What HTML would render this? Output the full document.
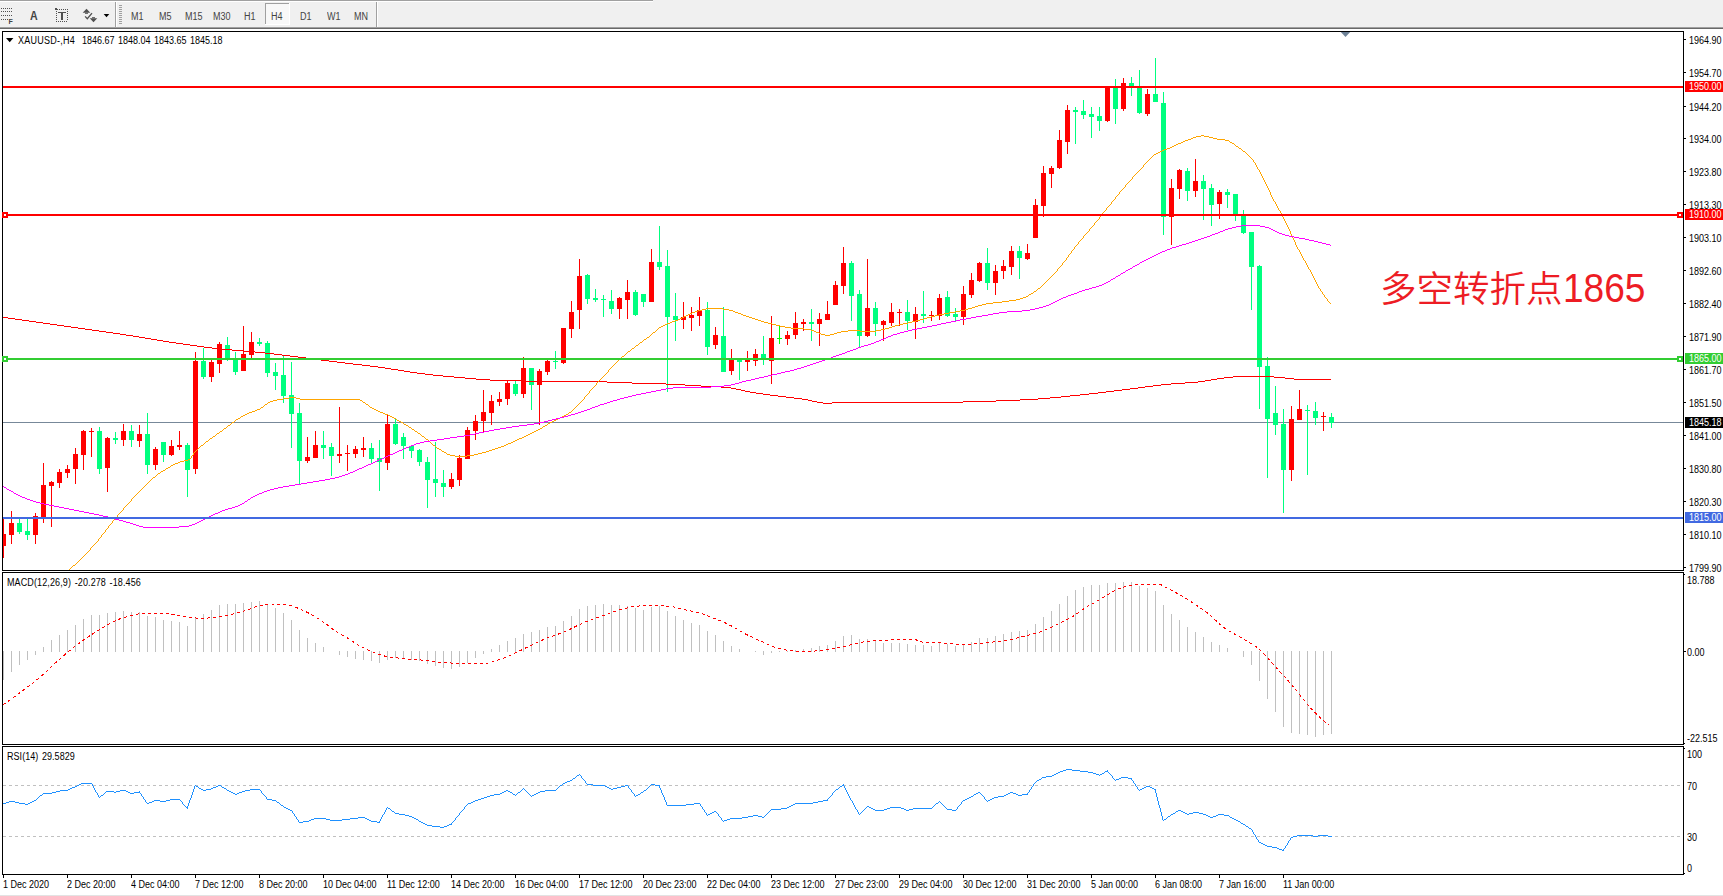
<!DOCTYPE html>
<html><head><meta charset="utf-8"><title>XAUUSD H4</title>
<style>
html,body{margin:0;padding:0;background:#fff;}
body{width:1723px;height:896px;position:relative;overflow:hidden;font-family:"Liberation Sans",sans-serif;}
.t{position:absolute;white-space:nowrap;font-size:10px;line-height:12px;color:#000;transform-origin:0 50%;transform:scaleX(0.9);}
.t.w{color:#fff;}
.t.tb{color:#444;}
.big .dg{display:inline-block;font-weight:400;font-size:40.7px;transform:scaleX(.911);transform-origin:0 50%;position:relative;top:-0.9px;line-height:40px;}
.big{position:absolute;left:1380.1px;top:264.4px;font-family:"Liberation Sans","Noto Sans CJK SC",sans-serif;font-size:36.5px;line-height:52px;font-weight:350;color:#ED1C24;white-space:nowrap;}
</style></head><body>
<svg width="1723" height="896" viewBox="0 0 1723 896" shape-rendering="crispEdges" style="position:absolute;left:0;top:0"><rect x="0" y="0" width="1723" height="896" fill="#FFFFFF"/><rect x="0" y="0" width="1723" height="27" fill="#F0F0F0"/><rect x="0" y="0" width="653" height="1" fill="#A0A0A0"/><rect x="0" y="1" width="653" height="1" fill="#FFFFFF"/><rect x="0" y="27" width="1723" height="1" fill="#A0A0A0"/><rect x="0" y="28" width="1723" height="1" fill="#696969"/><rect x="0" y="895" width="1723" height="1" fill="#E3E3E3"/><rect x="2" y="31" width="1682" height="1" fill="#000"/><rect x="2" y="570" width="1682" height="1" fill="#000"/><rect x="2" y="31" width="1" height="540" fill="#000"/><rect x="1683" y="31" width="1" height="540" fill="#000"/><rect x="2" y="572" width="1682" height="1" fill="#000"/><rect x="2" y="744" width="1682" height="1" fill="#000"/><rect x="2" y="572" width="1" height="173" fill="#000"/><rect x="1683" y="572" width="1" height="173" fill="#000"/><rect x="2" y="746" width="1682" height="1" fill="#000"/><rect x="2" y="874" width="1682" height="1" fill="#000"/><rect x="2" y="746" width="1" height="129" fill="#000"/><rect x="1683" y="746" width="1" height="129" fill="#000"/><defs><clipPath id="c1"><rect x="3" y="32" width="1680" height="538"/></clipPath><clipPath id="c2"><rect x="3" y="573" width="1680" height="171"/></clipPath><clipPath id="c3"><rect x="3" y="747" width="1680" height="127"/></clipPath></defs><g clip-path="url(#c1)"><rect x="3" y="422" width="1680" height="1" fill="#778899"/><rect x="3" y="519" width="1" height="39" fill="#FF0000"/><rect x="1" y="534" width="5" height="12" fill="#FF0000"/><rect x="11" y="511" width="1" height="33" fill="#FF0000"/><rect x="9" y="523" width="5" height="12" fill="#FF0000"/><rect x="19" y="519" width="1" height="15" fill="#00FF7F"/><rect x="17" y="523" width="5" height="9" fill="#00FF7F"/><rect x="27" y="519" width="1" height="21" fill="#00FF7F"/><rect x="25" y="531" width="5" height="4" fill="#00FF7F"/><rect x="35" y="513" width="1" height="31" fill="#FF0000"/><rect x="33" y="516" width="5" height="19" fill="#FF0000"/><rect x="43" y="463" width="1" height="60" fill="#FF0000"/><rect x="41" y="485" width="5" height="33" fill="#FF0000"/><rect x="51" y="481" width="1" height="46" fill="#FF0000"/><rect x="49" y="482" width="5" height="4" fill="#FF0000"/><rect x="59" y="469" width="1" height="19" fill="#FF0000"/><rect x="57" y="472" width="5" height="11" fill="#FF0000"/><rect x="67" y="465" width="1" height="13" fill="#FF0000"/><rect x="65" y="469" width="5" height="4" fill="#FF0000"/><rect x="75" y="448" width="1" height="36" fill="#FF0000"/><rect x="73" y="454" width="5" height="15" fill="#FF0000"/><rect x="83" y="430" width="1" height="40" fill="#FF0000"/><rect x="81" y="431" width="5" height="24" fill="#FF0000"/><rect x="91" y="428" width="1" height="29" fill="#FF0000"/><rect x="89" y="431" width="5" height="1" fill="#FF0000"/><rect x="99" y="427" width="1" height="47" fill="#00FF7F"/><rect x="97" y="431" width="5" height="38" fill="#00FF7F"/><rect x="107" y="437" width="1" height="55" fill="#FF0000"/><rect x="105" y="438" width="5" height="30" fill="#FF0000"/><rect x="115" y="432" width="1" height="12" fill="#00FF7F"/><rect x="113" y="438" width="5" height="2" fill="#00FF7F"/><rect x="123" y="424" width="1" height="22" fill="#FF0000"/><rect x="121" y="431" width="5" height="9" fill="#FF0000"/><rect x="131" y="425" width="1" height="22" fill="#00FF7F"/><rect x="129" y="431" width="5" height="9" fill="#00FF7F"/><rect x="139" y="425" width="1" height="22" fill="#FF0000"/><rect x="137" y="434" width="5" height="7" fill="#FF0000"/><rect x="147" y="413" width="1" height="61" fill="#00FF7F"/><rect x="145" y="434" width="5" height="31" fill="#00FF7F"/><rect x="155" y="447" width="1" height="23" fill="#FF0000"/><rect x="153" y="449" width="5" height="16" fill="#FF0000"/><rect x="163" y="442" width="1" height="20" fill="#00FF7F"/><rect x="161" y="442" width="5" height="13" fill="#00FF7F"/><rect x="171" y="440" width="1" height="16" fill="#FF0000"/><rect x="169" y="446" width="5" height="9" fill="#FF0000"/><rect x="179" y="431" width="1" height="19" fill="#FF0000"/><rect x="177" y="445" width="5" height="2" fill="#FF0000"/><rect x="187" y="443" width="1" height="54" fill="#00FF7F"/><rect x="185" y="445" width="5" height="25" fill="#00FF7F"/><rect x="195" y="352" width="1" height="122" fill="#FF0000"/><rect x="193" y="361" width="5" height="108" fill="#FF0000"/><rect x="203" y="348" width="1" height="31" fill="#00FF7F"/><rect x="201" y="361" width="5" height="16" fill="#00FF7F"/><rect x="211" y="360" width="1" height="22" fill="#FF0000"/><rect x="209" y="362" width="5" height="15" fill="#FF0000"/><rect x="219" y="342" width="1" height="31" fill="#FF0000"/><rect x="217" y="344" width="5" height="20" fill="#FF0000"/><rect x="227" y="337" width="1" height="24" fill="#00FF7F"/><rect x="225" y="345" width="5" height="13" fill="#00FF7F"/><rect x="235" y="352" width="1" height="23" fill="#00FF7F"/><rect x="233" y="359" width="5" height="13" fill="#00FF7F"/><rect x="243" y="326" width="1" height="45" fill="#FF0000"/><rect x="241" y="354" width="5" height="17" fill="#FF0000"/><rect x="251" y="332" width="1" height="26" fill="#FF0000"/><rect x="249" y="342" width="5" height="13" fill="#FF0000"/><rect x="259" y="338" width="1" height="8" fill="#00FF7F"/><rect x="257" y="342" width="5" height="2" fill="#00FF7F"/><rect x="267" y="341" width="1" height="36" fill="#00FF7F"/><rect x="265" y="343" width="5" height="30" fill="#00FF7F"/><rect x="275" y="363" width="1" height="27" fill="#00FF7F"/><rect x="273" y="372" width="5" height="4" fill="#00FF7F"/><rect x="283" y="355" width="1" height="48" fill="#00FF7F"/><rect x="281" y="375" width="5" height="21" fill="#00FF7F"/><rect x="291" y="362" width="1" height="86" fill="#00FF7F"/><rect x="289" y="395" width="5" height="19" fill="#00FF7F"/><rect x="299" y="403" width="1" height="82" fill="#00FF7F"/><rect x="297" y="413" width="5" height="48" fill="#00FF7F"/><rect x="307" y="437" width="1" height="26" fill="#FF0000"/><rect x="305" y="457" width="5" height="4" fill="#FF0000"/><rect x="315" y="431" width="1" height="27" fill="#FF0000"/><rect x="313" y="445" width="5" height="13" fill="#FF0000"/><rect x="323" y="431" width="1" height="28" fill="#00FF7F"/><rect x="321" y="445" width="5" height="3" fill="#00FF7F"/><rect x="331" y="443" width="1" height="33" fill="#00FF7F"/><rect x="329" y="447" width="5" height="9" fill="#00FF7F"/><rect x="339" y="407" width="1" height="56" fill="#FF0000"/><rect x="337" y="454" width="5" height="2" fill="#FF0000"/><rect x="347" y="445" width="1" height="26" fill="#FF0000"/><rect x="345" y="453" width="5" height="1" fill="#FF0000"/><rect x="355" y="446" width="1" height="12" fill="#FF0000"/><rect x="353" y="449" width="5" height="5" fill="#FF0000"/><rect x="363" y="437" width="1" height="20" fill="#FF0000"/><rect x="361" y="448" width="5" height="2" fill="#FF0000"/><rect x="371" y="443" width="1" height="20" fill="#00FF7F"/><rect x="369" y="448" width="5" height="11" fill="#00FF7F"/><rect x="379" y="440" width="1" height="51" fill="#00FF7F"/><rect x="377" y="458" width="5" height="4" fill="#00FF7F"/><rect x="387" y="414" width="1" height="56" fill="#FF0000"/><rect x="385" y="424" width="5" height="39" fill="#FF0000"/><rect x="395" y="418" width="1" height="27" fill="#00FF7F"/><rect x="393" y="424" width="5" height="20" fill="#00FF7F"/><rect x="403" y="433" width="1" height="26" fill="#00FF7F"/><rect x="401" y="437" width="5" height="9" fill="#00FF7F"/><rect x="411" y="445" width="1" height="13" fill="#00FF7F"/><rect x="409" y="446" width="5" height="5" fill="#00FF7F"/><rect x="419" y="449" width="1" height="17" fill="#00FF7F"/><rect x="417" y="450" width="5" height="12" fill="#00FF7F"/><rect x="427" y="457" width="1" height="51" fill="#00FF7F"/><rect x="425" y="462" width="5" height="18" fill="#00FF7F"/><rect x="435" y="442" width="1" height="55" fill="#00FF7F"/><rect x="433" y="479" width="5" height="4" fill="#00FF7F"/><rect x="443" y="470" width="1" height="27" fill="#00FF7F"/><rect x="441" y="483" width="5" height="4" fill="#00FF7F"/><rect x="451" y="473" width="1" height="16" fill="#FF0000"/><rect x="449" y="479" width="5" height="8" fill="#FF0000"/><rect x="459" y="455" width="1" height="31" fill="#FF0000"/><rect x="457" y="458" width="5" height="22" fill="#FF0000"/><rect x="467" y="427" width="1" height="32" fill="#FF0000"/><rect x="465" y="430" width="5" height="29" fill="#FF0000"/><rect x="475" y="415" width="1" height="25" fill="#FF0000"/><rect x="473" y="421" width="5" height="10" fill="#FF0000"/><rect x="483" y="390" width="1" height="42" fill="#FF0000"/><rect x="481" y="412" width="5" height="9" fill="#FF0000"/><rect x="491" y="395" width="1" height="30" fill="#FF0000"/><rect x="489" y="401" width="5" height="12" fill="#FF0000"/><rect x="499" y="392" width="1" height="14" fill="#FF0000"/><rect x="497" y="399" width="5" height="3" fill="#FF0000"/><rect x="507" y="380" width="1" height="25" fill="#FF0000"/><rect x="505" y="383" width="5" height="16" fill="#FF0000"/><rect x="515" y="381" width="1" height="15" fill="#00FF7F"/><rect x="513" y="384" width="5" height="10" fill="#00FF7F"/><rect x="523" y="357" width="1" height="41" fill="#FF0000"/><rect x="521" y="368" width="5" height="26" fill="#FF0000"/><rect x="531" y="368" width="1" height="42" fill="#00FF7F"/><rect x="529" y="368" width="5" height="17" fill="#00FF7F"/><rect x="539" y="369" width="1" height="56" fill="#FF0000"/><rect x="537" y="371" width="5" height="14" fill="#FF0000"/><rect x="547" y="358" width="1" height="17" fill="#FF0000"/><rect x="545" y="361" width="5" height="11" fill="#FF0000"/><rect x="555" y="351" width="1" height="18" fill="#00FF7F"/><rect x="553" y="361" width="5" height="1" fill="#00FF7F"/><rect x="563" y="328" width="1" height="36" fill="#FF0000"/><rect x="561" y="328" width="5" height="35" fill="#FF0000"/><rect x="571" y="301" width="1" height="37" fill="#FF0000"/><rect x="569" y="312" width="5" height="17" fill="#FF0000"/><rect x="579" y="259" width="1" height="70" fill="#FF0000"/><rect x="577" y="276" width="5" height="34" fill="#FF0000"/><rect x="587" y="274" width="1" height="30" fill="#00FF7F"/><rect x="585" y="275" width="5" height="24" fill="#00FF7F"/><rect x="595" y="289" width="1" height="13" fill="#00FF7F"/><rect x="593" y="298" width="5" height="2" fill="#00FF7F"/><rect x="603" y="295" width="1" height="22" fill="#00FF7F"/><rect x="601" y="299" width="5" height="1" fill="#00FF7F"/><rect x="611" y="290" width="1" height="24" fill="#00FF7F"/><rect x="609" y="301" width="5" height="8" fill="#00FF7F"/><rect x="619" y="297" width="1" height="22" fill="#FF0000"/><rect x="617" y="298" width="5" height="11" fill="#FF0000"/><rect x="627" y="280" width="1" height="39" fill="#FF0000"/><rect x="625" y="292" width="5" height="8" fill="#FF0000"/><rect x="635" y="290" width="1" height="26" fill="#00FF7F"/><rect x="633" y="292" width="5" height="23" fill="#00FF7F"/><rect x="643" y="294" width="1" height="13" fill="#00FF7F"/><rect x="641" y="294" width="5" height="8" fill="#00FF7F"/><rect x="651" y="249" width="1" height="53" fill="#FF0000"/><rect x="649" y="262" width="5" height="40" fill="#FF0000"/><rect x="659" y="226" width="1" height="44" fill="#00FF7F"/><rect x="657" y="262" width="5" height="5" fill="#00FF7F"/><rect x="667" y="250" width="1" height="142" fill="#00FF7F"/><rect x="665" y="266" width="5" height="51" fill="#00FF7F"/><rect x="675" y="293" width="1" height="48" fill="#00FF7F"/><rect x="673" y="316" width="5" height="4" fill="#00FF7F"/><rect x="683" y="302" width="1" height="27" fill="#FF0000"/><rect x="681" y="317" width="5" height="3" fill="#FF0000"/><rect x="691" y="307" width="1" height="24" fill="#FF0000"/><rect x="689" y="315" width="5" height="3" fill="#FF0000"/><rect x="699" y="297" width="1" height="29" fill="#FF0000"/><rect x="697" y="310" width="5" height="6" fill="#FF0000"/><rect x="707" y="302" width="1" height="53" fill="#00FF7F"/><rect x="705" y="310" width="5" height="37" fill="#00FF7F"/><rect x="715" y="327" width="1" height="22" fill="#FF0000"/><rect x="713" y="335" width="5" height="10" fill="#FF0000"/><rect x="723" y="307" width="1" height="65" fill="#00FF7F"/><rect x="721" y="336" width="5" height="36" fill="#00FF7F"/><rect x="731" y="349" width="1" height="26" fill="#FF0000"/><rect x="729" y="359" width="5" height="12" fill="#FF0000"/><rect x="739" y="359" width="1" height="21" fill="#00FF7F"/><rect x="737" y="360" width="5" height="2" fill="#00FF7F"/><rect x="747" y="351" width="1" height="20" fill="#FF0000"/><rect x="745" y="360" width="5" height="2" fill="#FF0000"/><rect x="755" y="349" width="1" height="17" fill="#FF0000"/><rect x="753" y="354" width="5" height="7" fill="#FF0000"/><rect x="763" y="336" width="1" height="29" fill="#00FF7F"/><rect x="761" y="354" width="5" height="4" fill="#00FF7F"/><rect x="771" y="316" width="1" height="68" fill="#FF0000"/><rect x="769" y="338" width="5" height="23" fill="#FF0000"/><rect x="779" y="326" width="1" height="18" fill="#00FF00"/><rect x="777" y="338" width="5" height="1" fill="#00FF00"/><rect x="787" y="331" width="1" height="14" fill="#FF0000"/><rect x="785" y="335" width="5" height="4" fill="#FF0000"/><rect x="795" y="312" width="1" height="27" fill="#FF0000"/><rect x="793" y="323" width="5" height="12" fill="#FF0000"/><rect x="803" y="319" width="1" height="12" fill="#FF0000"/><rect x="801" y="322" width="5" height="2" fill="#FF0000"/><rect x="811" y="309" width="1" height="32" fill="#00FF7F"/><rect x="809" y="322" width="5" height="2" fill="#00FF7F"/><rect x="819" y="313" width="1" height="33" fill="#FF0000"/><rect x="817" y="319" width="5" height="5" fill="#FF0000"/><rect x="827" y="301" width="1" height="19" fill="#FF0000"/><rect x="825" y="314" width="5" height="6" fill="#FF0000"/><rect x="835" y="281" width="1" height="24" fill="#FF0000"/><rect x="833" y="285" width="5" height="20" fill="#FF0000"/><rect x="843" y="247" width="1" height="47" fill="#FF0000"/><rect x="841" y="263" width="5" height="23" fill="#FF0000"/><rect x="851" y="261" width="1" height="60" fill="#00FF7F"/><rect x="849" y="263" width="5" height="33" fill="#00FF7F"/><rect x="859" y="290" width="1" height="57" fill="#00FF7F"/><rect x="857" y="294" width="5" height="42" fill="#00FF7F"/><rect x="867" y="259" width="1" height="78" fill="#FF0000"/><rect x="865" y="308" width="5" height="28" fill="#FF0000"/><rect x="875" y="302" width="1" height="34" fill="#00FF7F"/><rect x="873" y="308" width="5" height="16" fill="#00FF7F"/><rect x="883" y="320" width="1" height="21" fill="#FF0000"/><rect x="881" y="321" width="5" height="4" fill="#FF0000"/><rect x="891" y="303" width="1" height="23" fill="#FF0000"/><rect x="889" y="312" width="5" height="11" fill="#FF0000"/><rect x="899" y="309" width="1" height="17" fill="#FF0000"/><rect x="897" y="312" width="5" height="1" fill="#FF0000"/><rect x="907" y="300" width="1" height="30" fill="#00FF7F"/><rect x="905" y="312" width="5" height="9" fill="#00FF7F"/><rect x="915" y="307" width="1" height="32" fill="#FF0000"/><rect x="913" y="314" width="5" height="8" fill="#FF0000"/><rect x="923" y="291" width="1" height="32" fill="#00FF7F"/><rect x="921" y="314" width="5" height="2" fill="#00FF7F"/><rect x="931" y="311" width="1" height="10" fill="#FF0000"/><rect x="929" y="315" width="5" height="1" fill="#FF0000"/><rect x="939" y="294" width="1" height="26" fill="#FF0000"/><rect x="937" y="298" width="5" height="18" fill="#FF0000"/><rect x="947" y="291" width="1" height="26" fill="#00FF7F"/><rect x="945" y="297" width="5" height="19" fill="#00FF7F"/><rect x="955" y="308" width="1" height="13" fill="#00FF7F"/><rect x="953" y="314" width="5" height="3" fill="#00FF7F"/><rect x="963" y="286" width="1" height="39" fill="#FF0000"/><rect x="961" y="294" width="5" height="23" fill="#FF0000"/><rect x="971" y="273" width="1" height="25" fill="#FF0000"/><rect x="969" y="280" width="5" height="15" fill="#FF0000"/><rect x="979" y="262" width="1" height="20" fill="#FF0000"/><rect x="977" y="263" width="5" height="18" fill="#FF0000"/><rect x="987" y="248" width="1" height="42" fill="#00FF7F"/><rect x="985" y="263" width="5" height="20" fill="#00FF7F"/><rect x="995" y="265" width="1" height="30" fill="#FF0000"/><rect x="993" y="271" width="5" height="12" fill="#FF0000"/><rect x="1003" y="260" width="1" height="19" fill="#FF0000"/><rect x="1001" y="266" width="5" height="5" fill="#FF0000"/><rect x="1011" y="246" width="1" height="29" fill="#FF0000"/><rect x="1009" y="251" width="5" height="16" fill="#FF0000"/><rect x="1019" y="246" width="1" height="33" fill="#00FF7F"/><rect x="1017" y="251" width="5" height="7" fill="#00FF7F"/><rect x="1027" y="244" width="1" height="16" fill="#FF0000"/><rect x="1025" y="253" width="5" height="6" fill="#FF0000"/><rect x="1035" y="199" width="1" height="39" fill="#FF0000"/><rect x="1033" y="205" width="5" height="33" fill="#FF0000"/><rect x="1043" y="166" width="1" height="51" fill="#FF0000"/><rect x="1041" y="173" width="5" height="33" fill="#FF0000"/><rect x="1051" y="166" width="1" height="22" fill="#FF0000"/><rect x="1049" y="168" width="5" height="6" fill="#FF0000"/><rect x="1059" y="130" width="1" height="39" fill="#FF0000"/><rect x="1057" y="140" width="5" height="28" fill="#FF0000"/><rect x="1067" y="105" width="1" height="49" fill="#FF0000"/><rect x="1065" y="110" width="5" height="32" fill="#FF0000"/><rect x="1075" y="107" width="1" height="37" fill="#00FF7F"/><rect x="1073" y="110" width="5" height="2" fill="#00FF7F"/><rect x="1083" y="100" width="1" height="19" fill="#00FF7F"/><rect x="1081" y="111" width="5" height="4" fill="#00FF7F"/><rect x="1091" y="107" width="1" height="31" fill="#00FF7F"/><rect x="1089" y="114" width="5" height="3" fill="#00FF7F"/><rect x="1099" y="107" width="1" height="24" fill="#00FF7F"/><rect x="1097" y="116" width="5" height="5" fill="#00FF7F"/><rect x="1107" y="87" width="1" height="35" fill="#FF0000"/><rect x="1105" y="87" width="5" height="34" fill="#FF0000"/><rect x="1115" y="79" width="1" height="45" fill="#00FF7F"/><rect x="1113" y="88" width="5" height="21" fill="#00FF7F"/><rect x="1123" y="78" width="1" height="33" fill="#FF0000"/><rect x="1121" y="83" width="5" height="26" fill="#FF0000"/><rect x="1131" y="77" width="1" height="19" fill="#00FF7F"/><rect x="1129" y="83" width="5" height="3" fill="#00FF7F"/><rect x="1139" y="70" width="1" height="44" fill="#00FF7F"/><rect x="1137" y="88" width="5" height="25" fill="#00FF7F"/><rect x="1147" y="89" width="1" height="27" fill="#FF0000"/><rect x="1145" y="94" width="5" height="20" fill="#FF0000"/><rect x="1155" y="58" width="1" height="44" fill="#00FF7F"/><rect x="1153" y="94" width="5" height="8" fill="#00FF7F"/><rect x="1163" y="92" width="1" height="143" fill="#00FF7F"/><rect x="1161" y="103" width="5" height="114" fill="#00FF7F"/><rect x="1171" y="179" width="1" height="66" fill="#FF0000"/><rect x="1169" y="188" width="5" height="29" fill="#FF0000"/><rect x="1179" y="169" width="1" height="30" fill="#FF0000"/><rect x="1177" y="170" width="5" height="19" fill="#FF0000"/><rect x="1187" y="168" width="1" height="33" fill="#00FF7F"/><rect x="1185" y="171" width="5" height="20" fill="#00FF7F"/><rect x="1195" y="159" width="1" height="38" fill="#FF0000"/><rect x="1193" y="181" width="5" height="10" fill="#FF0000"/><rect x="1203" y="175" width="1" height="45" fill="#00FF7F"/><rect x="1201" y="181" width="5" height="8" fill="#00FF7F"/><rect x="1211" y="184" width="1" height="42" fill="#00FF7F"/><rect x="1209" y="188" width="5" height="17" fill="#00FF7F"/><rect x="1219" y="190" width="1" height="29" fill="#FF0000"/><rect x="1217" y="192" width="5" height="12" fill="#FF0000"/><rect x="1227" y="189" width="1" height="19" fill="#00FF7F"/><rect x="1225" y="192" width="5" height="3" fill="#00FF7F"/><rect x="1235" y="194" width="1" height="27" fill="#00FF7F"/><rect x="1233" y="194" width="5" height="21" fill="#00FF7F"/><rect x="1243" y="210" width="1" height="24" fill="#00FF7F"/><rect x="1241" y="215" width="5" height="18" fill="#00FF7F"/><rect x="1251" y="232" width="1" height="78" fill="#00FF7F"/><rect x="1249" y="232" width="5" height="35" fill="#00FF7F"/><rect x="1259" y="265" width="1" height="144" fill="#00FF7F"/><rect x="1257" y="266" width="5" height="101" fill="#00FF7F"/><rect x="1267" y="357" width="1" height="121" fill="#00FF7F"/><rect x="1265" y="366" width="5" height="53" fill="#00FF7F"/><rect x="1275" y="386" width="1" height="49" fill="#00FF7F"/><rect x="1273" y="413" width="5" height="12" fill="#00FF7F"/><rect x="1283" y="409" width="1" height="104" fill="#00FF7F"/><rect x="1281" y="424" width="5" height="46" fill="#00FF7F"/><rect x="1291" y="406" width="1" height="75" fill="#FF0000"/><rect x="1289" y="419" width="5" height="51" fill="#FF0000"/><rect x="1299" y="390" width="1" height="30" fill="#FF0000"/><rect x="1297" y="409" width="5" height="11" fill="#FF0000"/><rect x="1307" y="405" width="1" height="70" fill="#00FF7F"/><rect x="1305" y="410" width="5" height="1" fill="#00FF7F"/><rect x="1315" y="402" width="1" height="23" fill="#00FF7F"/><rect x="1313" y="411" width="5" height="7" fill="#00FF7F"/><rect x="1323" y="412" width="1" height="19" fill="#FF0000"/><rect x="1321" y="416" width="5" height="1" fill="#FF0000"/><rect x="1331" y="413" width="1" height="15" fill="#00FF7F"/><rect x="1329" y="417" width="5" height="6" fill="#00FF7F"/><path d="M3 317h5v1h-5zM8 318h7v1h-7zM15 319h7v1h-7zM22 320h7v1h-7zM29 321h7v1h-7zM36 322h7v1h-7zM43 323h7v1h-7zM50 324h7v1h-7zM57 325h7v1h-7zM64 326h7v1h-7zM71 327h7v1h-7zM78 328h7v1h-7zM85 329h7v1h-7zM92 330h7v1h-7zM99 331h7v1h-7zM106 332h7v1h-7zM113 333h7v1h-7zM120 334h6v1h-6zM126 335h7v1h-7zM133 336h6v1h-6zM139 337h6v1h-6zM145 338h6v1h-6zM151 339h6v1h-6zM157 340h6v1h-6zM163 341h6v1h-6zM169 342h7v1h-7zM176 343h7v1h-7zM183 344h7v1h-7zM190 345h7v1h-7zM197 346h7v1h-7zM204 347h8v1h-8zM212 348h9v1h-9zM221 349h11v1h-11zM232 350h12v1h-12zM244 351h11v1h-11zM255 352h10v1h-10zM265 353h9v1h-9zM274 354h8v1h-8zM282 355h8v1h-8zM290 356h8v1h-8zM298 357h8v1h-8zM306 358h7v1h-7zM313 359h8v1h-8zM321 360h8v1h-8zM329 361h8v1h-8zM337 362h8v1h-8zM345 363h8v1h-8zM353 364h9v1h-9zM362 365h8v1h-8zM370 366h8v1h-8zM378 367h7v1h-7zM385 368h6v1h-6zM391 369h7v1h-7zM398 370h6v1h-6zM404 371h6v1h-6zM410 372h7v1h-7zM417 373h8v1h-8zM425 374h8v1h-8zM433 375h10v1h-10zM443 376h11v1h-11zM454 377h11v1h-11zM465 378h11v1h-11zM476 379h14v1h-14zM490 380h32v1h-32zM522 381h85v1h-85zM607 382h25v1h-25zM632 383h34v1h-34zM666 384h19v1h-19zM685 385h16v1h-16zM701 386h20v1h-20zM721 387h10v1h-10zM731 388h5v1h-5zM736 389h5v1h-5zM741 390h4v1h-4zM745 391h5v1h-5zM750 392h6v1h-6zM756 393h7v1h-7zM763 394h7v1h-7zM770 395h8v1h-8zM778 396h8v1h-8zM786 397h8v1h-8zM794 398h8v1h-8zM802 399h6v1h-6zM808 400h4v1h-4zM812 401h5v1h-5zM817 402h6v1h-6zM823 403h9v1h-9zM832 402h131v1h-131zM963 401h33v1h-33zM996 400h24v1h-24zM1020 399h18v1h-18zM1038 398h12v1h-12zM1050 397h11v1h-11zM1061 396h9v1h-9zM1070 395h10v1h-10zM1080 394h9v1h-9zM1089 393h9v1h-9zM1098 392h8v1h-8zM1106 391h8v1h-8zM1114 390h8v1h-8zM1122 389h8v1h-8zM1130 388h8v1h-8zM1138 387h7v1h-7zM1145 386h8v1h-8zM1153 385h8v1h-8zM1161 384h10v1h-10zM1171 383h14v1h-14zM1185 382h13v1h-13zM1198 381h7v1h-7zM1205 380h6v1h-6zM1211 379h6v1h-6zM1217 378h7v1h-7zM1224 377h9v1h-9zM1233 376h41v1h-41zM1274 377h11v1h-11zM1285 378h9v1h-9zM1294 379h37v1h-37z" fill="#FF0000"/><path d="M69 569h1v1h-1zM70 568h1v1h-1zM71 567h1v1h-1zM72 566h1v1h-1zM73 565h2v1h-2zM75 564h1v1h-1zM76 563h1v1h-1zM77 562h1v1h-1zM78 561h1v1h-1zM79 560h1v1h-1zM80 559h1v1h-1zM81 558h1v1h-1zM82 557h1v1h-1zM83 556h1v1h-1zM84 555h1v1h-1zM85 554h1v1h-1zM86 553h1v1h-1zM87 552h1v1h-1zM88 551h1v1h-1zM89 550h1v1h-1zM90 548h1v2h-1zM91 547h1v1h-1zM92 546h1v1h-1zM93 545h1v1h-1zM94 544h1v1h-1zM95 543h1v1h-1zM96 542h1v1h-1zM97 541h1v1h-1zM98 539h1v2h-1zM99 538h1v1h-1zM100 537h1v1h-1zM101 535h1v2h-1zM102 534h1v1h-1zM103 533h1v1h-1zM104 532h1v1h-1zM105 530h1v2h-1zM106 529h1v1h-1zM107 528h1v1h-1zM108 526h1v2h-1zM109 525h1v1h-1zM110 524h1v1h-1zM111 523h1v1h-1zM112 521h1v2h-1zM113 520h1v1h-1zM114 519h1v1h-1zM115 518h1v1h-1zM116 517h1v1h-1zM117 515h1v2h-1zM118 514h1v1h-1zM119 513h1v1h-1zM120 512h1v1h-1zM121 511h1v1h-1zM122 510h1v1h-1zM123 508h1v2h-1zM124 507h1v1h-1zM125 506h1v1h-1zM126 505h1v1h-1zM127 504h1v1h-1zM128 503h1v1h-1zM129 502h1v1h-1zM130 501h1v1h-1zM131 499h1v2h-1zM132 498h1v1h-1zM133 497h1v1h-1zM134 496h1v1h-1zM135 495h1v1h-1zM136 494h1v1h-1zM137 493h1v1h-1zM138 492h1v1h-1zM139 491h1v1h-1zM140 490h1v1h-1zM141 489h1v1h-1zM142 488h1v1h-1zM143 487h1v1h-1zM144 486h1v1h-1zM145 485h1v1h-1zM146 484h1v1h-1zM147 483h1v1h-1zM148 482h1v1h-1zM149 481h1v1h-1zM150 480h1v1h-1zM151 479h1v1h-1zM152 478h1v1h-1zM153 477h2v1h-2zM155 476h1v1h-1zM156 475h1v1h-1zM157 474h1v1h-1zM158 473h2v1h-2zM160 472h1v1h-1zM161 471h2v1h-2zM163 470h2v1h-2zM165 469h1v1h-1zM166 468h2v1h-2zM168 467h2v1h-2zM170 466h1v1h-1zM171 465h2v1h-2zM173 464h2v1h-2zM175 463h3v1h-3zM178 462h2v1h-2zM180 461h4v1h-4zM184 460h4v1h-4zM188 459h2v1h-2zM190 458h1v1h-1zM191 456h1v2h-1zM192 455h1v1h-1zM193 453h1v2h-1zM194 452h1v1h-1zM195 451h1v1h-1zM196 450h1v1h-1zM197 449h1v1h-1zM198 448h1v1h-1zM199 447h1v1h-1zM200 446h1v1h-1zM201 445h2v1h-2zM203 444h1v1h-1zM204 443h1v1h-1zM205 442h1v1h-1zM206 441h2v1h-2zM208 440h1v1h-1zM209 439h1v1h-1zM210 438h2v1h-2zM212 437h1v1h-1zM213 436h2v1h-2zM215 435h1v1h-1zM216 434h1v1h-1zM217 433h2v1h-2zM219 432h1v1h-1zM220 431h2v1h-2zM222 430h1v1h-1zM223 429h1v1h-1zM224 428h2v1h-2zM226 427h1v1h-1zM227 426h1v1h-1zM228 425h2v1h-2zM230 424h1v1h-1zM231 423h1v1h-1zM232 422h2v1h-2zM234 421h1v1h-1zM235 420h1v1h-1zM236 419h2v1h-2zM238 418h2v1h-2zM240 417h1v1h-1zM241 416h2v1h-2zM243 415h2v1h-2zM245 414h2v1h-2zM247 413h2v1h-2zM249 412h3v1h-3zM252 411h3v1h-3zM255 410h2v1h-2zM257 409h3v1h-3zM260 408h1v1h-1zM261 407h2v1h-2zM263 406h1v1h-1zM264 405h1v1h-1zM265 404h2v1h-2zM267 403h1v1h-1zM268 402h2v1h-2zM270 401h3v1h-3zM273 400h4v1h-4zM277 399h6v1h-6zM283 398h6v1h-6zM289 397h7v1h-7zM296 398h4v1h-4zM300 399h60v1h-60zM360 400h2v1h-2zM362 401h1v1h-1zM363 402h2v1h-2zM365 403h1v1h-1zM366 404h2v1h-2zM368 405h1v1h-1zM369 406h1v1h-1zM370 407h2v1h-2zM372 408h2v1h-2zM374 409h2v1h-2zM376 410h2v1h-2zM378 411h2v1h-2zM380 412h3v1h-3zM383 413h2v1h-2zM385 414h3v1h-3zM388 415h2v1h-2zM390 416h2v1h-2zM392 417h2v1h-2zM394 418h2v1h-2zM396 419h1v1h-1zM397 420h2v1h-2zM399 421h2v1h-2zM401 422h2v1h-2zM403 423h1v1h-1zM404 424h2v1h-2zM406 425h2v1h-2zM408 426h1v1h-1zM409 427h2v1h-2zM411 428h1v1h-1zM412 429h2v1h-2zM414 430h1v1h-1zM415 431h2v1h-2zM417 432h1v1h-1zM418 433h2v1h-2zM420 434h1v1h-1zM421 435h1v1h-1zM422 436h2v1h-2zM424 437h1v1h-1zM425 438h1v1h-1zM426 439h2v1h-2zM428 440h1v1h-1zM429 441h1v1h-1zM430 442h1v1h-1zM431 443h1v1h-1zM432 444h1v1h-1zM433 445h2v1h-2zM435 446h1v1h-1zM436 447h1v1h-1zM437 448h2v1h-2zM439 449h2v1h-2zM441 450h1v1h-1zM442 451h2v1h-2zM444 452h2v1h-2zM446 453h1v1h-1zM447 454h3v1h-3zM450 455h5v1h-5zM455 456h12v1h-12zM467 455h7v1h-7zM474 454h4v1h-4zM478 453h4v1h-4zM482 452h4v1h-4zM486 451h3v1h-3zM489 450h3v1h-3zM492 449h3v1h-3zM495 448h3v1h-3zM498 447h3v1h-3zM501 446h3v1h-3zM504 445h2v1h-2zM506 444h2v1h-2zM508 443h3v1h-3zM511 442h2v1h-2zM513 441h2v1h-2zM515 440h2v1h-2zM517 439h2v1h-2zM519 438h3v1h-3zM522 437h2v1h-2zM524 436h2v1h-2zM526 435h2v1h-2zM528 434h2v1h-2zM530 433h2v1h-2zM532 432h2v1h-2zM534 431h2v1h-2zM536 430h2v1h-2zM538 429h2v1h-2zM540 428h2v1h-2zM542 427h1v1h-1zM543 426h2v1h-2zM545 425h2v1h-2zM547 424h1v1h-1zM548 423h2v1h-2zM550 422h2v1h-2zM552 421h2v1h-2zM554 420h2v1h-2zM556 419h2v1h-2zM558 418h2v1h-2zM560 417h2v1h-2zM562 416h2v1h-2zM564 415h2v1h-2zM566 414h2v1h-2zM568 413h1v1h-1zM569 412h2v1h-2zM571 411h1v1h-1zM572 410h1v1h-1zM573 409h1v1h-1zM574 408h1v1h-1zM575 407h1v1h-1zM576 406h1v1h-1zM577 405h1v1h-1zM578 404h1v1h-1zM579 403h1v1h-1zM580 402h1v1h-1zM581 401h1v1h-1zM582 400h1v1h-1zM583 399h1v1h-1zM584 397h1v2h-1zM585 396h1v1h-1zM586 395h1v1h-1zM587 394h1v1h-1zM588 393h1v1h-1zM589 391h1v2h-1zM590 390h1v1h-1zM591 389h1v1h-1zM592 388h1v1h-1zM593 387h1v1h-1zM594 386h1v1h-1zM595 385h1v1h-1zM596 383h1v2h-1zM597 382h1v1h-1zM598 381h1v1h-1zM599 380h1v1h-1zM600 379h1v1h-1zM601 378h1v1h-1zM602 377h1v1h-1zM603 376h1v1h-1zM604 375h1v1h-1zM605 374h1v1h-1zM606 373h1v1h-1zM607 372h1v1h-1zM608 370h1v2h-1zM609 369h1v1h-1zM610 368h1v1h-1zM611 367h1v1h-1zM612 366h1v1h-1zM613 365h1v1h-1zM614 364h1v1h-1zM615 363h1v1h-1zM616 362h1v1h-1zM617 361h1v1h-1zM618 360h1v1h-1zM619 359h1v1h-1zM620 358h1v1h-1zM621 357h1v1h-1zM622 356h2v1h-2zM624 355h1v1h-1zM625 354h1v1h-1zM626 353h1v1h-1zM627 352h1v1h-1zM628 351h2v1h-2zM630 350h1v1h-1zM631 349h1v1h-1zM632 348h2v1h-2zM634 347h1v1h-1zM635 346h1v1h-1zM636 345h2v1h-2zM638 344h1v1h-1zM639 343h1v1h-1zM640 342h2v1h-2zM642 341h1v1h-1zM643 340h1v1h-1zM644 339h2v1h-2zM646 338h1v1h-1zM647 337h2v1h-2zM649 336h1v1h-1zM650 335h1v1h-1zM651 334h1v1h-1zM652 333h1v1h-1zM653 332h2v1h-2zM655 331h1v1h-1zM656 330h1v1h-1zM657 329h1v1h-1zM658 328h1v1h-1zM659 327h2v1h-2zM661 326h2v1h-2zM663 325h2v1h-2zM665 324h2v1h-2zM667 323h3v1h-3zM670 322h2v1h-2zM672 321h3v1h-3zM675 320h3v1h-3zM678 319h2v1h-2zM680 318h2v1h-2zM682 317h2v1h-2zM684 316h2v1h-2zM686 315h2v1h-2zM688 314h2v1h-2zM690 313h2v1h-2zM692 312h3v1h-3zM695 311h3v1h-3zM698 310h4v1h-4zM702 309h4v1h-4zM706 308h17v1h-17zM723 309h6v1h-6zM729 310h4v1h-4zM733 311h2v1h-2zM735 312h3v1h-3zM738 313h3v1h-3zM741 314h2v1h-2zM743 315h3v1h-3zM746 316h3v1h-3zM749 317h3v1h-3zM752 318h3v1h-3zM755 319h3v1h-3zM758 320h3v1h-3zM761 321h3v1h-3zM764 322h4v1h-4zM768 323h4v1h-4zM772 324h4v1h-4zM776 325h4v1h-4zM780 326h5v1h-5zM785 327h6v1h-6zM791 328h13v1h-13zM804 329h7v1h-7zM811 330h3v1h-3zM814 331h2v1h-2zM816 332h3v1h-3zM819 333h2v1h-2zM821 334h4v1h-4zM825 335h5v1h-5zM830 334h4v1h-4zM834 333h3v1h-3zM837 332h4v1h-4zM841 331h7v1h-7zM848 330h12v1h-12zM860 331h16v1h-16zM876 330h5v1h-5zM881 329h4v1h-4zM885 328h4v1h-4zM889 327h3v1h-3zM892 326h3v1h-3zM895 325h4v1h-4zM899 324h4v1h-4zM903 323h5v1h-5zM908 322h4v1h-4zM912 321h4v1h-4zM916 320h4v1h-4zM920 319h4v1h-4zM924 318h3v1h-3zM927 317h4v1h-4zM931 316h4v1h-4zM935 315h4v1h-4zM939 314h5v1h-5zM944 313h5v1h-5zM949 312h6v1h-6zM955 311h5v1h-5zM960 310h5v1h-5zM965 309h3v1h-3zM968 308h4v1h-4zM972 307h3v1h-3zM975 306h3v1h-3zM978 305h4v1h-4zM982 304h4v1h-4zM986 303h7v1h-7zM993 302h9v1h-9zM1002 301h7v1h-7zM1009 300h7v1h-7zM1016 299h4v1h-4zM1020 298h3v1h-3zM1023 297h3v1h-3zM1026 296h2v1h-2zM1028 295h1v1h-1zM1029 294h2v1h-2zM1031 293h2v1h-2zM1033 292h1v1h-1zM1034 291h2v1h-2zM1036 290h1v1h-1zM1037 289h1v1h-1zM1038 288h2v1h-2zM1040 287h1v1h-1zM1041 286h1v1h-1zM1042 285h1v1h-1zM1043 284h1v1h-1zM1044 283h1v1h-1zM1045 282h1v1h-1zM1046 281h1v1h-1zM1047 280h1v1h-1zM1048 279h1v1h-1zM1049 278h1v1h-1zM1050 277h1v1h-1zM1051 276h1v1h-1zM1052 275h1v1h-1zM1053 274h1v1h-1zM1054 273h1v1h-1zM1055 272h1v1h-1zM1056 271h1v1h-1zM1057 269h1v2h-1zM1058 268h1v1h-1zM1059 267h1v1h-1zM1060 266h1v1h-1zM1061 265h1v1h-1zM1062 263h1v2h-1zM1063 262h1v1h-1zM1064 261h1v1h-1zM1065 260h1v1h-1zM1066 258h1v2h-1zM1067 257h1v1h-1zM1068 255h1v2h-1zM1069 254h1v1h-1zM1070 253h1v1h-1zM1071 251h1v2h-1zM1072 250h1v1h-1zM1073 249h1v1h-1zM1074 247h1v2h-1zM1075 246h1v1h-1zM1076 245h1v1h-1zM1077 244h1v1h-1zM1078 242h1v2h-1zM1079 241h1v1h-1zM1080 240h1v1h-1zM1081 239h1v1h-1zM1082 238h1v1h-1zM1083 236h1v2h-1zM1084 235h1v1h-1zM1085 234h1v1h-1zM1086 233h1v1h-1zM1087 232h1v1h-1zM1088 231h1v1h-1zM1089 229h1v2h-1zM1090 228h1v1h-1zM1091 227h1v1h-1zM1092 226h1v1h-1zM1093 225h1v1h-1zM1094 223h1v2h-1zM1095 222h1v1h-1zM1096 221h1v1h-1zM1097 220h1v1h-1zM1098 219h1v1h-1zM1099 217h1v2h-1zM1100 216h1v1h-1zM1101 215h1v1h-1zM1102 213h1v2h-1zM1103 212h1v1h-1zM1104 211h1v1h-1zM1105 210h1v1h-1zM1106 208h1v2h-1zM1107 207h1v1h-1zM1108 206h1v1h-1zM1109 205h1v1h-1zM1110 204h1v1h-1zM1111 202h1v2h-1zM1112 201h1v1h-1zM1113 200h1v1h-1zM1114 199h1v1h-1zM1115 197h1v2h-1zM1116 196h1v1h-1zM1117 195h1v1h-1zM1118 194h1v1h-1zM1119 192h1v2h-1zM1120 191h1v1h-1zM1121 190h1v1h-1zM1122 189h1v1h-1zM1123 188h1v1h-1zM1124 187h1v1h-1zM1125 185h1v2h-1zM1126 184h1v1h-1zM1127 183h1v1h-1zM1128 182h1v1h-1zM1129 181h1v1h-1zM1130 180h1v1h-1zM1131 179h1v1h-1zM1132 177h1v2h-1zM1133 176h1v1h-1zM1134 175h1v1h-1zM1135 174h1v1h-1zM1136 173h1v1h-1zM1137 172h1v1h-1zM1138 171h1v1h-1zM1139 170h1v1h-1zM1140 169h1v1h-1zM1141 168h1v1h-1zM1142 167h1v1h-1zM1143 165h1v2h-1zM1144 164h1v1h-1zM1145 163h1v1h-1zM1146 162h1v1h-1zM1147 161h1v1h-1zM1148 160h1v1h-1zM1149 159h1v1h-1zM1150 158h1v1h-1zM1151 157h1v1h-1zM1152 156h1v1h-1zM1153 155h1v1h-1zM1154 154h2v1h-2zM1156 153h2v1h-2zM1158 152h2v1h-2zM1160 151h2v1h-2zM1162 150h2v1h-2zM1164 149h3v1h-3zM1167 148h3v1h-3zM1170 147h2v1h-2zM1172 146h2v1h-2zM1174 145h2v1h-2zM1176 144h2v1h-2zM1178 143h3v1h-3zM1181 142h2v1h-2zM1183 141h2v1h-2zM1185 140h3v1h-3zM1188 139h3v1h-3zM1191 138h2v1h-2zM1193 137h3v1h-3zM1196 136h5v1h-5zM1201 135h3v1h-3zM1204 136h5v1h-5zM1209 137h4v1h-4zM1213 138h4v1h-4zM1217 139h8v1h-8zM1225 140h4v1h-4zM1229 141h1v1h-1zM1230 142h2v1h-2zM1232 143h2v1h-2zM1234 144h1v1h-1zM1235 145h1v1h-1zM1236 146h2v1h-2zM1238 147h1v1h-1zM1239 148h2v1h-2zM1241 149h1v1h-1zM1242 150h1v1h-1zM1243 151h2v1h-2zM1245 152h1v1h-1zM1246 153h1v1h-1zM1247 154h1v1h-1zM1248 155h1v1h-1zM1249 156h1v1h-1zM1250 157h1v1h-1zM1251 158h1v1h-1zM1252 159h1v1h-1zM1253 160h1v2h-1zM1254 162h1v1h-1zM1255 163h1v2h-1zM1256 165h1v2h-1zM1257 167h1v2h-1zM1258 169h1v1h-1zM1259 170h1v2h-1zM1260 172h1v2h-1zM1261 174h1v2h-1zM1262 176h1v2h-1zM1263 178h1v2h-1zM1264 180h1v2h-1zM1265 182h1v2h-1zM1266 184h1v2h-1zM1267 186h1v2h-1zM1268 188h1v2h-1zM1269 190h1v2h-1zM1270 192h1v3h-1zM1271 195h1v2h-1zM1272 197h1v2h-1zM1273 199h1v2h-1zM1274 201h1v1h-1zM1275 202h1v2h-1zM1276 204h1v2h-1zM1277 206h1v2h-1zM1278 208h1v2h-1zM1279 210h1v1h-1zM1280 211h1v2h-1zM1281 213h1v2h-1zM1282 215h1v2h-1zM1283 217h1v2h-1zM1284 219h1v2h-1zM1285 221h1v2h-1zM1286 223h1v2h-1zM1287 225h1v2h-1zM1288 227h1v2h-1zM1289 229h1v2h-1zM1290 231h1v3h-1zM1291 234h1v2h-1zM1292 236h1v2h-1zM1293 238h1v2h-1zM1294 240h1v2h-1zM1295 242h1v3h-1zM1296 245h1v2h-1zM1297 247h1v2h-1zM1298 249h1v1h-1zM1299 250h1v2h-1zM1300 252h1v2h-1zM1301 254h1v2h-1zM1302 256h1v2h-1zM1303 258h1v2h-1zM1304 260h1v1h-1zM1305 261h1v2h-1zM1306 263h1v2h-1zM1307 265h1v2h-1zM1308 267h1v2h-1zM1309 269h1v1h-1zM1310 270h1v2h-1zM1311 272h1v2h-1zM1312 274h1v2h-1zM1313 276h1v2h-1zM1314 278h1v2h-1zM1315 280h1v2h-1zM1316 282h1v2h-1zM1317 284h1v2h-1zM1318 286h1v2h-1zM1319 288h1v1h-1zM1320 289h1v2h-1zM1321 291h1v1h-1zM1322 292h1v2h-1zM1323 294h1v1h-1zM1324 295h1v2h-1zM1325 297h1v1h-1zM1326 298h1v1h-1zM1327 299h1v2h-1zM1328 301h1v1h-1zM1329 302h1v1h-1zM1330 303h1v1h-1z" fill="#FFA500"/><path d="M3 486h1v1h-1zM4 487h2v1h-2zM6 488h1v1h-1zM7 489h2v1h-2zM9 490h2v1h-2zM11 491h2v1h-2zM13 492h1v1h-1zM14 493h2v1h-2zM16 494h2v1h-2zM18 495h2v1h-2zM20 496h2v1h-2zM22 497h3v1h-3zM25 498h2v1h-2zM27 499h3v1h-3zM30 500h3v1h-3zM33 501h3v1h-3zM36 502h4v1h-4zM40 503h4v1h-4zM44 504h5v1h-5zM49 505h5v1h-5zM54 506h5v1h-5zM59 507h5v1h-5zM64 508h5v1h-5zM69 509h5v1h-5zM74 510h5v1h-5zM79 511h5v1h-5zM84 512h5v1h-5zM89 513h5v1h-5zM94 514h5v1h-5zM99 515h4v1h-4zM103 516h5v1h-5zM108 517h4v1h-4zM112 518h3v1h-3zM115 519h4v1h-4zM119 520h4v1h-4zM123 521h3v1h-3zM126 522h4v1h-4zM130 523h3v1h-3zM133 524h3v1h-3zM136 525h3v1h-3zM139 526h4v1h-4zM143 527h36v1h-36zM179 526h10v1h-10zM189 525h3v1h-3zM192 524h3v1h-3zM195 523h2v1h-2zM197 522h2v1h-2zM199 521h2v1h-2zM201 520h2v1h-2zM203 519h2v1h-2zM205 518h2v1h-2zM207 517h2v1h-2zM209 516h2v1h-2zM211 515h2v1h-2zM213 514h2v1h-2zM215 513h3v1h-3zM218 512h2v1h-2zM220 511h2v1h-2zM222 510h3v1h-3zM225 509h3v1h-3zM228 508h4v1h-4zM232 507h3v1h-3zM235 506h3v1h-3zM238 505h2v1h-2zM240 504h2v1h-2zM242 503h2v1h-2zM244 502h1v1h-1zM245 501h2v1h-2zM247 500h1v1h-1zM248 499h2v1h-2zM250 498h1v1h-1zM251 497h2v1h-2zM253 496h2v1h-2zM255 495h2v1h-2zM257 494h2v1h-2zM259 493h3v1h-3zM262 492h2v1h-2zM264 491h3v1h-3zM267 490h3v1h-3zM270 489h4v1h-4zM274 488h4v1h-4zM278 487h5v1h-5zM283 486h6v1h-6zM289 485h6v1h-6zM295 484h6v1h-6zM301 483h6v1h-6zM307 482h6v1h-6zM313 481h6v1h-6zM319 480h6v1h-6zM325 479h5v1h-5zM330 478h5v1h-5zM335 477h4v1h-4zM339 476h3v1h-3zM342 475h3v1h-3zM345 474h3v1h-3zM348 473h2v1h-2zM350 472h3v1h-3zM353 471h2v1h-2zM355 470h2v1h-2zM357 469h2v1h-2zM359 468h3v1h-3zM362 467h2v1h-2zM364 466h2v1h-2zM366 465h2v1h-2zM368 464h3v1h-3zM371 463h2v1h-2zM373 462h2v1h-2zM375 461h2v1h-2zM377 460h2v1h-2zM379 459h3v1h-3zM382 458h2v1h-2zM384 457h2v1h-2zM386 456h2v1h-2zM388 455h2v1h-2zM390 454h3v1h-3zM393 453h2v1h-2zM395 452h2v1h-2zM397 451h2v1h-2zM399 450h3v1h-3zM402 449h2v1h-2zM404 448h2v1h-2zM406 447h3v1h-3zM409 446h2v1h-2zM411 445h3v1h-3zM414 444h2v1h-2zM416 443h4v1h-4zM420 442h4v1h-4zM424 441h6v1h-6zM430 440h7v1h-7zM437 439h7v1h-7zM444 438h6v1h-6zM450 437h7v1h-7zM457 436h7v1h-7zM464 435h6v1h-6zM470 434h5v1h-5zM475 433h4v1h-4zM479 432h5v1h-5zM484 431h5v1h-5zM489 430h5v1h-5zM494 429h6v1h-6zM500 428h6v1h-6zM506 427h6v1h-6zM512 426h7v1h-7zM519 425h8v1h-8zM527 424h7v1h-7zM534 423h5v1h-5zM539 422h5v1h-5zM544 421h4v1h-4zM548 420h4v1h-4zM552 419h4v1h-4zM556 418h4v1h-4zM560 417h4v1h-4zM564 416h4v1h-4zM568 415h3v1h-3zM571 414h4v1h-4zM575 413h3v1h-3zM578 412h3v1h-3zM581 411h3v1h-3zM584 410h3v1h-3zM587 409h3v1h-3zM590 408h2v1h-2zM592 407h3v1h-3zM595 406h3v1h-3zM598 405h2v1h-2zM600 404h4v1h-4zM604 403h3v1h-3zM607 402h3v1h-3zM610 401h3v1h-3zM613 400h4v1h-4zM617 399h3v1h-3zM620 398h4v1h-4zM624 397h4v1h-4zM628 396h4v1h-4zM632 395h4v1h-4zM636 394h5v1h-5zM641 393h5v1h-5zM646 392h5v1h-5zM651 391h5v1h-5zM656 390h5v1h-5zM661 389h5v1h-5zM666 388h7v1h-7zM673 387h38v1h-38zM711 386h13v1h-13zM724 385h7v1h-7zM731 384h4v1h-4zM735 383h4v1h-4zM739 382h3v1h-3zM742 381h4v1h-4zM746 380h5v1h-5zM751 379h4v1h-4zM755 378h4v1h-4zM759 377h5v1h-5zM764 376h4v1h-4zM768 375h4v1h-4zM772 374h5v1h-5zM777 373h4v1h-4zM781 372h4v1h-4zM785 371h5v1h-5zM790 370h4v1h-4zM794 369h3v1h-3zM797 368h4v1h-4zM801 367h3v1h-3zM804 366h3v1h-3zM807 365h3v1h-3zM810 364h3v1h-3zM813 363h3v1h-3zM816 362h3v1h-3zM819 361h3v1h-3zM822 360h3v1h-3zM825 359h3v1h-3zM828 358h3v1h-3zM831 357h2v1h-2zM833 356h3v1h-3zM836 355h3v1h-3zM839 354h3v1h-3zM842 353h3v1h-3zM845 352h2v1h-2zM847 351h3v1h-3zM850 350h3v1h-3zM853 349h3v1h-3zM856 348h2v1h-2zM858 347h3v1h-3zM861 346h3v1h-3zM864 345h4v1h-4zM868 344h3v1h-3zM871 343h3v1h-3zM874 342h2v1h-2zM876 341h3v1h-3zM879 340h2v1h-2zM881 339h3v1h-3zM884 338h2v1h-2zM886 337h2v1h-2zM888 336h3v1h-3zM891 335h2v1h-2zM893 334h4v1h-4zM897 333h3v1h-3zM900 332h4v1h-4zM904 331h4v1h-4zM908 330h4v1h-4zM912 329h5v1h-5zM917 328h5v1h-5zM922 327h5v1h-5zM927 326h5v1h-5zM932 325h5v1h-5zM937 324h4v1h-4zM941 323h5v1h-5zM946 322h5v1h-5zM951 321h5v1h-5zM956 320h4v1h-4zM960 319h6v1h-6zM966 318h5v1h-5zM971 317h5v1h-5zM976 316h6v1h-6zM982 315h6v1h-6zM988 314h5v1h-5zM993 313h6v1h-6zM999 312h8v1h-8zM1007 311h15v1h-15zM1022 310h8v1h-8zM1030 309h5v1h-5zM1035 308h4v1h-4zM1039 307h4v1h-4zM1043 306h3v1h-3zM1046 305h3v1h-3zM1049 304h2v1h-2zM1051 303h2v1h-2zM1053 302h2v1h-2zM1055 301h2v1h-2zM1057 300h2v1h-2zM1059 299h2v1h-2zM1061 298h2v1h-2zM1063 297h3v1h-3zM1066 296h2v1h-2zM1068 295h3v1h-3zM1071 294h3v1h-3zM1074 293h3v1h-3zM1077 292h2v1h-2zM1079 291h3v1h-3zM1082 290h3v1h-3zM1085 289h4v1h-4zM1089 288h3v1h-3zM1092 287h4v1h-4zM1096 286h3v1h-3zM1099 285h3v1h-3zM1102 284h2v1h-2zM1104 283h2v1h-2zM1106 282h2v1h-2zM1108 281h2v1h-2zM1110 280h1v1h-1zM1111 279h2v1h-2zM1113 278h2v1h-2zM1115 277h1v1h-1zM1116 276h2v1h-2zM1118 275h2v1h-2zM1120 274h1v1h-1zM1121 273h2v1h-2zM1123 272h2v1h-2zM1125 271h1v1h-1zM1126 270h2v1h-2zM1128 269h2v1h-2zM1130 268h2v1h-2zM1132 267h1v1h-1zM1133 266h2v1h-2zM1135 265h2v1h-2zM1137 264h2v1h-2zM1139 263h1v1h-1zM1140 262h2v1h-2zM1142 261h2v1h-2zM1144 260h2v1h-2zM1146 259h2v1h-2zM1148 258h2v1h-2zM1150 257h2v1h-2zM1152 256h2v1h-2zM1154 255h2v1h-2zM1156 254h2v1h-2zM1158 253h2v1h-2zM1160 252h2v1h-2zM1162 251h3v1h-3zM1165 250h2v1h-2zM1167 249h3v1h-3zM1170 248h2v1h-2zM1172 247h4v1h-4zM1176 246h3v1h-3zM1179 245h3v1h-3zM1182 244h4v1h-4zM1186 243h3v1h-3zM1189 242h3v1h-3zM1192 241h3v1h-3zM1195 240h3v1h-3zM1198 239h3v1h-3zM1201 238h3v1h-3zM1204 237h3v1h-3zM1207 236h3v1h-3zM1210 235h2v1h-2zM1212 234h3v1h-3zM1215 233h3v1h-3zM1218 232h2v1h-2zM1220 231h3v1h-3zM1223 230h2v1h-2zM1225 229h3v1h-3zM1228 228h4v1h-4zM1232 227h4v1h-4zM1236 226h5v1h-5zM1241 225h19v1h-19zM1260 226h5v1h-5zM1265 227h4v1h-4zM1269 228h2v1h-2zM1271 229h2v1h-2zM1273 230h2v1h-2zM1275 231h2v1h-2zM1277 232h2v1h-2zM1279 233h3v1h-3zM1282 234h3v1h-3zM1285 235h4v1h-4zM1289 236h5v1h-5zM1294 237h5v1h-5zM1299 238h6v1h-6zM1305 239h4v1h-4zM1309 240h5v1h-5zM1314 241h4v1h-4zM1318 242h4v1h-4zM1322 243h4v1h-4zM1326 244h4v1h-4zM1330 245h1v1h-1z" fill="#FF00FF"/><rect x="3" y="86" width="1680" height="2" fill="#FF0000"/><rect x="3" y="214" width="1680" height="2" fill="#FF0000"/><rect x="3" y="358" width="1680" height="2" fill="#32CD32"/><rect x="3" y="517" width="1680" height="2" fill="#4169E1"/></g><rect x="2" y="212" width="6" height="6" fill="#FF0000"/><rect x="4" y="214" width="2" height="2" fill="#FFFFFF"/><rect x="1677" y="212" width="6" height="6" fill="#FF0000"/><rect x="1679" y="214" width="2" height="2" fill="#FFFFFF"/><rect x="2" y="356" width="6" height="6" fill="#32CD32"/><rect x="4" y="358" width="2" height="2" fill="#FFFFFF"/><rect x="1677" y="356" width="6" height="6" fill="#32CD32"/><rect x="1679" y="358" width="2" height="2" fill="#FFFFFF"/><polygon points="1340.8,32 1350.2,32 1345.5,37" fill="#6E8297" shape-rendering="auto"/><g clip-path="url(#c2)"><rect x="3" y="651" width="1" height="29" fill="#C0C0C0"/><rect x="11" y="651" width="1" height="21" fill="#C0C0C0"/><rect x="19" y="651" width="1" height="14" fill="#C0C0C0"/><rect x="27" y="651" width="1" height="9" fill="#C0C0C0"/><rect x="35" y="651" width="1" height="4" fill="#C0C0C0"/><rect x="43" y="647" width="1" height="5" fill="#C0C0C0"/><rect x="51" y="640" width="1" height="12" fill="#C0C0C0"/><rect x="59" y="635" width="1" height="17" fill="#C0C0C0"/><rect x="67" y="630" width="1" height="22" fill="#C0C0C0"/><rect x="75" y="625" width="1" height="27" fill="#C0C0C0"/><rect x="83" y="619" width="1" height="33" fill="#C0C0C0"/><rect x="91" y="615" width="1" height="37" fill="#C0C0C0"/><rect x="99" y="615" width="1" height="37" fill="#C0C0C0"/><rect x="107" y="613" width="1" height="39" fill="#C0C0C0"/><rect x="115" y="612" width="1" height="40" fill="#C0C0C0"/><rect x="123" y="611" width="1" height="41" fill="#C0C0C0"/><rect x="131" y="612" width="1" height="40" fill="#C0C0C0"/><rect x="139" y="612" width="1" height="40" fill="#C0C0C0"/><rect x="147" y="616" width="1" height="36" fill="#C0C0C0"/><rect x="155" y="617" width="1" height="35" fill="#C0C0C0"/><rect x="163" y="620" width="1" height="32" fill="#C0C0C0"/><rect x="171" y="621" width="1" height="31" fill="#C0C0C0"/><rect x="179" y="622" width="1" height="30" fill="#C0C0C0"/><rect x="187" y="626" width="1" height="26" fill="#C0C0C0"/><rect x="195" y="618" width="1" height="34" fill="#C0C0C0"/><rect x="203" y="614" width="1" height="38" fill="#C0C0C0"/><rect x="211" y="610" width="1" height="42" fill="#C0C0C0"/><rect x="219" y="605" width="1" height="47" fill="#C0C0C0"/><rect x="227" y="604" width="1" height="48" fill="#C0C0C0"/><rect x="235" y="604" width="1" height="48" fill="#C0C0C0"/><rect x="243" y="603" width="1" height="49" fill="#C0C0C0"/><rect x="251" y="602" width="1" height="50" fill="#C0C0C0"/><rect x="259" y="601" width="1" height="51" fill="#C0C0C0"/><rect x="267" y="604" width="1" height="48" fill="#C0C0C0"/><rect x="275" y="608" width="1" height="44" fill="#C0C0C0"/><rect x="283" y="613" width="1" height="39" fill="#C0C0C0"/><rect x="291" y="620" width="1" height="32" fill="#C0C0C0"/><rect x="299" y="630" width="1" height="22" fill="#C0C0C0"/><rect x="307" y="638" width="1" height="14" fill="#C0C0C0"/><rect x="315" y="643" width="1" height="9" fill="#C0C0C0"/><rect x="323" y="647" width="1" height="5" fill="#C0C0C0"/><rect x="339" y="651" width="1" height="4" fill="#C0C0C0"/><rect x="347" y="651" width="1" height="6" fill="#C0C0C0"/><rect x="355" y="651" width="1" height="8" fill="#C0C0C0"/><rect x="363" y="651" width="1" height="9" fill="#C0C0C0"/><rect x="371" y="651" width="1" height="10" fill="#C0C0C0"/><rect x="379" y="651" width="1" height="12" fill="#C0C0C0"/><rect x="387" y="651" width="1" height="9" fill="#C0C0C0"/><rect x="395" y="651" width="1" height="7" fill="#C0C0C0"/><rect x="403" y="651" width="1" height="8" fill="#C0C0C0"/><rect x="411" y="651" width="1" height="9" fill="#C0C0C0"/><rect x="419" y="651" width="1" height="10" fill="#C0C0C0"/><rect x="427" y="651" width="1" height="13" fill="#C0C0C0"/><rect x="435" y="651" width="1" height="15" fill="#C0C0C0"/><rect x="443" y="651" width="1" height="17" fill="#C0C0C0"/><rect x="451" y="651" width="1" height="18" fill="#C0C0C0"/><rect x="459" y="651" width="1" height="16" fill="#C0C0C0"/><rect x="467" y="651" width="1" height="12" fill="#C0C0C0"/><rect x="475" y="651" width="1" height="7" fill="#C0C0C0"/><rect x="483" y="651" width="1" height="3" fill="#C0C0C0"/><rect x="491" y="649" width="1" height="3" fill="#C0C0C0"/><rect x="499" y="645" width="1" height="7" fill="#C0C0C0"/><rect x="507" y="641" width="1" height="11" fill="#C0C0C0"/><rect x="515" y="638" width="1" height="14" fill="#C0C0C0"/><rect x="523" y="634" width="1" height="18" fill="#C0C0C0"/><rect x="531" y="632" width="1" height="20" fill="#C0C0C0"/><rect x="539" y="630" width="1" height="22" fill="#C0C0C0"/><rect x="547" y="627" width="1" height="25" fill="#C0C0C0"/><rect x="555" y="626" width="1" height="26" fill="#C0C0C0"/><rect x="563" y="621" width="1" height="31" fill="#C0C0C0"/><rect x="571" y="616" width="1" height="36" fill="#C0C0C0"/><rect x="579" y="609" width="1" height="43" fill="#C0C0C0"/><rect x="587" y="606" width="1" height="46" fill="#C0C0C0"/><rect x="595" y="605" width="1" height="47" fill="#C0C0C0"/><rect x="603" y="604" width="1" height="48" fill="#C0C0C0"/><rect x="611" y="605" width="1" height="47" fill="#C0C0C0"/><rect x="619" y="605" width="1" height="47" fill="#C0C0C0"/><rect x="627" y="606" width="1" height="46" fill="#C0C0C0"/><rect x="635" y="608" width="1" height="44" fill="#C0C0C0"/><rect x="643" y="610" width="1" height="42" fill="#C0C0C0"/><rect x="651" y="607" width="1" height="45" fill="#C0C0C0"/><rect x="659" y="606" width="1" height="46" fill="#C0C0C0"/><rect x="667" y="611" width="1" height="41" fill="#C0C0C0"/><rect x="675" y="616" width="1" height="36" fill="#C0C0C0"/><rect x="683" y="620" width="1" height="32" fill="#C0C0C0"/><rect x="691" y="623" width="1" height="29" fill="#C0C0C0"/><rect x="699" y="625" width="1" height="27" fill="#C0C0C0"/><rect x="707" y="631" width="1" height="21" fill="#C0C0C0"/><rect x="715" y="635" width="1" height="17" fill="#C0C0C0"/><rect x="723" y="641" width="1" height="11" fill="#C0C0C0"/><rect x="731" y="646" width="1" height="6" fill="#C0C0C0"/><rect x="739" y="649" width="1" height="3" fill="#C0C0C0"/><rect x="755" y="651" width="1" height="1" fill="#C0C0C0"/><rect x="763" y="651" width="1" height="4" fill="#C0C0C0"/><rect x="771" y="651" width="1" height="2" fill="#C0C0C0"/><rect x="779" y="651" width="1" height="1" fill="#C0C0C0"/><rect x="787" y="651" width="1" height="1" fill="#C0C0C0"/><rect x="795" y="650" width="1" height="2" fill="#C0C0C0"/><rect x="803" y="649" width="1" height="3" fill="#C0C0C0"/><rect x="811" y="648" width="1" height="4" fill="#C0C0C0"/><rect x="819" y="646" width="1" height="6" fill="#C0C0C0"/><rect x="827" y="645" width="1" height="7" fill="#C0C0C0"/><rect x="835" y="641" width="1" height="11" fill="#C0C0C0"/><rect x="843" y="636" width="1" height="16" fill="#C0C0C0"/><rect x="851" y="635" width="1" height="17" fill="#C0C0C0"/><rect x="859" y="639" width="1" height="13" fill="#C0C0C0"/><rect x="867" y="639" width="1" height="13" fill="#C0C0C0"/><rect x="875" y="640" width="1" height="12" fill="#C0C0C0"/><rect x="883" y="643" width="1" height="9" fill="#C0C0C0"/><rect x="891" y="643" width="1" height="9" fill="#C0C0C0"/><rect x="899" y="643" width="1" height="9" fill="#C0C0C0"/><rect x="907" y="644" width="1" height="8" fill="#C0C0C0"/><rect x="915" y="645" width="1" height="7" fill="#C0C0C0"/><rect x="923" y="645" width="1" height="7" fill="#C0C0C0"/><rect x="931" y="646" width="1" height="6" fill="#C0C0C0"/><rect x="939" y="643" width="1" height="9" fill="#C0C0C0"/><rect x="947" y="644" width="1" height="8" fill="#C0C0C0"/><rect x="955" y="646" width="1" height="6" fill="#C0C0C0"/><rect x="963" y="644" width="1" height="8" fill="#C0C0C0"/><rect x="971" y="642" width="1" height="10" fill="#C0C0C0"/><rect x="979" y="638" width="1" height="14" fill="#C0C0C0"/><rect x="987" y="638" width="1" height="14" fill="#C0C0C0"/><rect x="995" y="636" width="1" height="16" fill="#C0C0C0"/><rect x="1003" y="634" width="1" height="18" fill="#C0C0C0"/><rect x="1011" y="632" width="1" height="20" fill="#C0C0C0"/><rect x="1019" y="631" width="1" height="21" fill="#C0C0C0"/><rect x="1027" y="630" width="1" height="22" fill="#C0C0C0"/><rect x="1035" y="624" width="1" height="28" fill="#C0C0C0"/><rect x="1043" y="617" width="1" height="35" fill="#C0C0C0"/><rect x="1051" y="611" width="1" height="41" fill="#C0C0C0"/><rect x="1059" y="604" width="1" height="48" fill="#C0C0C0"/><rect x="1067" y="596" width="1" height="56" fill="#C0C0C0"/><rect x="1075" y="590" width="1" height="62" fill="#C0C0C0"/><rect x="1083" y="587" width="1" height="65" fill="#C0C0C0"/><rect x="1091" y="585" width="1" height="67" fill="#C0C0C0"/><rect x="1099" y="585" width="1" height="67" fill="#C0C0C0"/><rect x="1107" y="583" width="1" height="69" fill="#C0C0C0"/><rect x="1115" y="583" width="1" height="69" fill="#C0C0C0"/><rect x="1123" y="582" width="1" height="70" fill="#C0C0C0"/><rect x="1131" y="582" width="1" height="70" fill="#C0C0C0"/><rect x="1139" y="586" width="1" height="66" fill="#C0C0C0"/><rect x="1147" y="588" width="1" height="64" fill="#C0C0C0"/><rect x="1155" y="591" width="1" height="61" fill="#C0C0C0"/><rect x="1163" y="605" width="1" height="47" fill="#C0C0C0"/><rect x="1171" y="614" width="1" height="38" fill="#C0C0C0"/><rect x="1179" y="620" width="1" height="32" fill="#C0C0C0"/><rect x="1187" y="627" width="1" height="25" fill="#C0C0C0"/><rect x="1195" y="632" width="1" height="20" fill="#C0C0C0"/><rect x="1203" y="637" width="1" height="15" fill="#C0C0C0"/><rect x="1211" y="642" width="1" height="10" fill="#C0C0C0"/><rect x="1219" y="645" width="1" height="7" fill="#C0C0C0"/><rect x="1227" y="648" width="1" height="4" fill="#C0C0C0"/><rect x="1243" y="651" width="1" height="6" fill="#C0C0C0"/><rect x="1251" y="651" width="1" height="14" fill="#C0C0C0"/><rect x="1259" y="651" width="1" height="30" fill="#C0C0C0"/><rect x="1267" y="651" width="1" height="48" fill="#C0C0C0"/><rect x="1275" y="651" width="1" height="61" fill="#C0C0C0"/><rect x="1283" y="651" width="1" height="76" fill="#C0C0C0"/><rect x="1291" y="651" width="1" height="82" fill="#C0C0C0"/><rect x="1299" y="651" width="1" height="83" fill="#C0C0C0"/><rect x="1307" y="651" width="1" height="84" fill="#C0C0C0"/><rect x="1315" y="651" width="1" height="86" fill="#C0C0C0"/><rect x="1323" y="651" width="1" height="84" fill="#C0C0C0"/><rect x="1331" y="651" width="1" height="83" fill="#C0C0C0"/><polyline points="3.0,704.8 5.0,703.4 7.0,702.1 9.0,700.7 11.0,699.3 13.0,697.8 15.0,696.4 17.0,694.9 19.0,693.5 21.0,692.0 23.0,690.5 25.0,689.0 27.0,687.5 29.0,686.0 31.0,684.5 33.0,682.9 35.0,681.3 37.0,679.7 39.0,678.0 41.0,676.3 43.0,674.6 45.0,672.7 47.0,670.8 49.0,668.9 51.0,667.0 53.0,665.1 55.0,663.2 57.0,661.4 59.0,659.6 61.0,657.9 63.0,656.2 65.0,654.5 67.0,652.8 69.0,651.2 71.0,649.6 73.0,648.0 75.0,646.4 77.0,644.9 79.0,643.4 81.0,641.9 83.0,640.5 85.0,639.0 87.0,637.6 89.0,636.3 91.0,634.9 93.0,633.6 95.0,632.3 97.0,631.1 99.0,629.9 101.0,628.7 103.0,627.6 105.0,626.4 107.0,625.2 109.0,624.1 111.0,623.0 113.0,621.9 115.0,620.9 117.0,620.0 119.0,619.2 121.0,618.4 123.0,617.8 125.0,617.2 127.0,616.7 129.0,616.1 131.0,615.6 133.0,615.1 135.0,614.6 137.0,614.2 139.0,613.9 141.0,613.7 143.0,613.6 145.0,613.6 147.0,613.6 149.0,613.6 151.0,613.6 153.0,613.6 155.0,613.6 157.0,613.6 159.0,613.6 161.0,613.6 163.0,613.6 165.0,613.6 167.0,613.7 169.0,613.8 171.0,614.1 173.0,614.4 175.0,614.7 177.0,615.1 179.0,615.5 181.0,615.9 183.0,616.2 185.0,616.5 187.0,616.7 189.0,617.0 191.0,617.3 193.0,617.6 195.0,617.9 197.0,618.1 199.0,618.2 201.0,618.3 203.0,618.3 205.0,618.2 207.0,618.1 209.0,617.9 211.0,617.7 213.0,617.4 215.0,617.2 217.0,616.9 219.0,616.6 221.0,616.3 223.0,616.0 225.0,615.7 227.0,615.3 229.0,614.8 231.0,614.4 233.0,613.9 235.0,613.4 237.0,612.9 239.0,612.3 241.0,611.8 243.0,611.2 245.0,610.7 247.0,610.0 249.0,609.3 251.0,608.5 253.0,607.7 255.0,607.0 257.0,606.3 259.0,605.7 261.0,605.3 263.0,605.1 265.0,605.0 267.0,604.9 269.0,604.8 271.0,604.7 273.0,604.7 275.0,604.6 277.0,604.6 279.0,604.5 281.0,604.5 283.0,604.5 285.0,604.5 287.0,604.7 289.0,605.1 291.0,605.6 293.0,606.2 295.0,607.0 297.0,607.8 299.0,608.7 301.0,609.6 303.0,610.5 305.0,611.3 307.0,612.2 309.0,613.2 311.0,614.3 313.0,615.4 315.0,616.6 317.0,617.9 319.0,619.2 321.0,620.5 323.0,621.8 325.0,623.2 327.0,624.7 329.0,626.2 331.0,627.8 333.0,629.3 335.0,630.8 337.0,632.2 339.0,633.5 341.0,634.6 343.0,635.6 345.0,636.6 347.0,637.7 349.0,639.0 351.0,640.3 353.0,641.6 355.0,642.9 357.0,644.2 359.0,645.4 361.0,646.5 363.0,647.6 365.0,648.7 367.0,649.7 369.0,650.6 371.0,651.5 373.0,652.3 375.0,653.1 377.0,653.8 379.0,654.5 381.0,655.1 383.0,655.7 385.0,656.1 387.0,656.5 389.0,656.8 391.0,657.1 393.0,657.4 395.0,657.7 397.0,657.9 399.0,658.1 401.0,658.3 403.0,658.5 405.0,658.7 407.0,658.9 409.0,659.1 411.0,659.2 413.0,659.4 415.0,659.5 417.0,659.7 419.0,659.8 421.0,660.0 423.0,660.1 425.0,660.3 427.0,660.5 429.0,660.8 431.0,661.1 433.0,661.4 435.0,661.7 437.0,661.9 439.0,662.2 441.0,662.3 443.0,662.5 445.0,662.6 447.0,662.8 449.0,662.9 451.0,663.0 453.0,663.1 455.0,663.2 457.0,663.3 459.0,663.3 461.0,663.4 463.0,663.4 465.0,663.4 467.0,663.4 469.0,663.4 471.0,663.4 473.0,663.4 475.0,663.4 477.0,663.4 479.0,663.4 481.0,663.4 483.0,663.4 485.0,663.4 487.0,663.2 489.0,662.7 491.0,662.2 493.0,661.6 495.0,660.9 497.0,660.3 499.0,659.7 501.0,659.0 503.0,658.3 505.0,657.5 507.0,656.7 509.0,655.9 511.0,655.0 513.0,654.2 515.0,653.2 517.0,652.2 519.0,651.3 521.0,650.3 523.0,649.3 525.0,648.3 527.0,647.3 529.0,646.3 531.0,645.4 533.0,644.4 535.0,643.4 537.0,642.5 539.0,641.5 541.0,640.6 543.0,639.8 545.0,638.9 547.0,638.1 549.0,637.4 551.0,636.7 553.0,636.0 555.0,635.3 557.0,634.6 559.0,633.8 561.0,633.1 563.0,632.3 565.0,631.5 567.0,630.7 569.0,629.7 571.0,628.8 573.0,627.8 575.0,626.8 577.0,625.8 579.0,624.8 581.0,623.9 583.0,623.0 585.0,622.1 587.0,621.3 589.0,620.5 591.0,619.8 593.0,619.1 595.0,618.4 597.0,617.7 599.0,617.1 601.0,616.4 603.0,615.7 605.0,615.0 607.0,614.2 609.0,613.5 611.0,612.7 613.0,612.0 615.0,611.3 617.0,610.7 619.0,610.1 621.0,609.5 623.0,609.0 625.0,608.5 627.0,608.0 629.0,607.5 631.0,607.1 633.0,606.7 635.0,606.4 637.0,606.2 639.0,606.0 641.0,605.8 643.0,605.6 645.0,605.5 647.0,605.3 649.0,605.2 651.0,605.1 653.0,605.1 655.0,605.1 657.0,605.2 659.0,605.3 661.0,605.4 663.0,605.6 665.0,605.9 667.0,606.1 669.0,606.4 671.0,606.6 673.0,606.9 675.0,607.3 677.0,607.7 679.0,608.2 681.0,608.7 683.0,609.2 685.0,609.7 687.0,610.2 689.0,610.7 691.0,611.1 693.0,611.6 695.0,612.0 697.0,612.5 699.0,613.0 701.0,613.5 703.0,614.1 705.0,614.8 707.0,615.5 709.0,616.3 711.0,617.1 713.0,617.9 715.0,618.7 717.0,619.5 719.0,620.3 721.0,621.1 723.0,622.0 725.0,622.8 727.0,623.7 729.0,624.7 731.0,625.7 733.0,626.8 735.0,627.9 737.0,629.2 739.0,630.4 741.0,631.6 743.0,632.7 745.0,633.7 747.0,634.7 749.0,635.7 751.0,636.7 753.0,637.6 755.0,638.5 757.0,639.4 759.0,640.3 761.0,641.2 763.0,642.0 765.0,643.0 767.0,643.9 769.0,644.9 771.0,645.8 773.0,646.7 775.0,647.4 777.0,648.1 779.0,648.6 781.0,649.0 783.0,649.5 785.0,649.9 787.0,650.2 789.0,650.5 791.0,650.8 793.0,651.0 795.0,651.1 797.0,651.1 799.0,651.1 801.0,651.1 803.0,651.1 805.0,651.1 807.0,651.1 809.0,651.1 811.0,651.1 813.0,651.1 815.0,651.0 817.0,650.9 819.0,650.7 821.0,650.4 823.0,650.1 825.0,649.8 827.0,649.5 829.0,649.2 831.0,649.0 833.0,648.6 835.0,648.3 837.0,648.0 839.0,647.6 841.0,647.2 843.0,646.8 845.0,646.4 847.0,645.9 849.0,645.3 851.0,644.8 853.0,644.3 855.0,643.8 857.0,643.3 859.0,642.9 861.0,642.4 863.0,642.0 865.0,641.6 867.0,641.3 869.0,641.1 871.0,641.0 873.0,641.0 875.0,640.9 877.0,640.8 879.0,640.8 881.0,640.7 883.0,640.6 885.0,640.5 887.0,640.3 889.0,640.0 891.0,639.7 893.0,639.5 895.0,639.5 897.0,639.5 899.0,639.5 901.0,639.5 903.0,639.5 905.0,639.6 907.0,639.6 909.0,639.6 911.0,639.6 913.0,639.7 915.0,639.7 917.0,640.1 919.0,640.9 921.0,641.7 923.0,642.2 925.0,642.3 927.0,642.5 929.0,642.6 931.0,642.6 933.0,642.7 935.0,642.8 937.0,642.8 939.0,642.9 941.0,642.9 943.0,643.0 945.0,643.1 947.0,643.2 949.0,643.3 951.0,643.6 953.0,643.9 955.0,644.2 957.0,644.4 959.0,644.4 961.0,644.4 963.0,644.3 965.0,644.3 967.0,644.2 969.0,644.1 971.0,644.0 973.0,644.0 975.0,643.9 977.0,643.7 979.0,643.6 981.0,643.4 983.0,643.2 985.0,642.9 987.0,642.7 989.0,642.5 991.0,642.2 993.0,642.0 995.0,641.8 997.0,641.6 999.0,641.3 1001.0,641.1 1003.0,640.9 1005.0,640.6 1007.0,640.3 1009.0,639.9 1011.0,639.5 1013.0,639.0 1015.0,638.5 1017.0,637.9 1019.0,637.4 1021.0,636.9 1023.0,636.4 1025.0,635.9 1027.0,635.5 1029.0,635.0 1031.0,634.5 1033.0,634.0 1035.0,633.5 1037.0,632.9 1039.0,632.3 1041.0,631.6 1043.0,630.8 1045.0,629.9 1047.0,629.1 1049.0,628.2 1051.0,627.3 1053.0,626.4 1055.0,625.5 1057.0,624.5 1059.0,623.6 1061.0,622.6 1063.0,621.6 1065.0,620.6 1067.0,619.6 1069.0,618.5 1071.0,617.4 1073.0,616.3 1075.0,615.1 1077.0,613.7 1079.0,612.2 1081.0,610.7 1083.0,609.3 1085.0,608.0 1087.0,606.8 1089.0,605.6 1091.0,604.5 1093.0,603.4 1095.0,602.2 1097.0,601.1 1099.0,599.9 1101.0,598.6 1103.0,597.4 1105.0,596.2 1107.0,595.0 1109.0,593.9 1111.0,592.8 1113.0,591.6 1115.0,590.6 1117.0,589.6 1119.0,588.7 1121.0,588.0 1123.0,587.3 1125.0,586.7 1127.0,586.1 1129.0,585.6 1131.0,585.2 1133.0,585.0 1135.0,584.9 1137.0,584.8 1139.0,584.7 1141.0,584.6 1143.0,584.6 1145.0,584.5 1147.0,584.5 1149.0,584.4 1151.0,584.4 1153.0,584.3 1155.0,584.3 1157.0,584.3 1159.0,584.3 1161.0,584.7 1163.0,585.7 1165.0,586.8 1167.0,587.9 1169.0,588.9 1171.0,590.0 1173.0,591.1 1175.0,592.2 1177.0,593.3 1179.0,594.4 1181.0,595.6 1183.0,596.8 1185.0,598.0 1187.0,599.2 1189.0,600.5 1191.0,601.7 1193.0,603.0 1195.0,604.3 1197.0,605.6 1199.0,606.9 1201.0,608.3 1203.0,609.7 1205.0,611.2 1207.0,612.7 1209.0,614.4 1211.0,616.1 1213.0,617.9 1215.0,619.8 1217.0,621.6 1219.0,623.4 1221.0,625.2 1223.0,626.8 1225.0,628.4 1227.0,629.8 1229.0,631.0 1231.0,632.2 1233.0,633.3 1235.0,634.3 1237.0,635.4 1239.0,636.4 1241.0,637.5 1243.0,638.6 1245.0,639.8 1247.0,641.0 1249.0,642.2 1251.0,643.4 1253.0,644.7 1255.0,646.0 1257.0,647.4 1259.0,649.0 1261.0,650.8 1263.0,652.7 1265.0,654.8 1267.0,657.0 1269.0,659.3 1271.0,661.6 1273.0,663.9 1275.0,666.2 1277.0,668.4 1279.0,670.6 1281.0,672.8 1283.0,675.0 1285.0,677.2 1287.0,679.5 1289.0,681.8 1291.0,684.1 1293.0,686.4 1295.0,688.8 1297.0,691.3 1299.0,693.9 1301.0,696.4 1303.0,699.0 1305.0,701.5 1307.0,703.9 1309.0,706.3 1311.0,708.5 1313.0,710.5 1315.0,712.6 1317.0,714.5 1319.0,716.4 1321.0,718.3 1323.0,720.1 1325.0,721.8 1327.0,723.4 1329.0,725.0 1329.5,725.4" fill="none" stroke="#FF0000" stroke-width="1" stroke-dasharray="3 3"/></g><g clip-path="url(#c3)"><line x1="3" y1="785.5" x2="1683" y2="785.5" stroke="#C0C0C0" stroke-width="1" stroke-dasharray="3 3"/><line x1="3" y1="836.5" x2="1683" y2="836.5" stroke="#C0C0C0" stroke-width="1" stroke-dasharray="3 3"/><path d="M3 803h3v1h-3zM6 802h3v1h-3zM9 801h6v1h-6zM15 802h4v1h-4zM19 803h6v1h-6zM25 804h3v1h-3zM28 803h2v1h-2zM30 802h2v1h-2zM32 801h2v1h-2zM34 800h2v1h-2zM36 799h1v1h-1zM37 798h1v1h-1zM38 797h1v1h-1zM39 796h1v1h-1zM40 795h2v1h-2zM42 794h1v1h-1zM43 793h9v1h-9zM52 792h4v1h-4zM56 791h4v1h-4zM60 790h8v1h-8zM68 789h2v1h-2zM70 788h2v1h-2zM72 787h3v1h-3zM75 786h2v1h-2zM77 785h2v1h-2zM79 784h2v1h-2zM81 783h11v1h-11zM92 784h1v2h-1zM93 786h1v2h-1zM94 788h1v2h-1zM95 790h1v2h-1zM96 792h1v1h-1zM97 793h1v2h-1zM98 795h1v2h-1zM99 797h1v1h-1zM100 796h1v1h-1zM101 795h2v1h-2zM103 794h1v1h-1zM104 793h1v1h-1zM105 792h1v1h-1zM106 791h8v1h-8zM114 792h2v1h-2zM116 791h4v1h-4zM120 790h6v1h-6zM126 791h2v1h-2zM128 792h2v1h-2zM130 793h4v1h-4zM134 792h5v1h-5zM139 791h1v2h-1zM140 793h1v1h-1zM141 794h1v2h-1zM142 796h1v1h-1zM143 797h1v2h-1zM144 799h1v1h-1zM145 800h1v2h-1zM146 802h1v1h-1zM147 803h2v1h-2zM149 802h3v1h-3zM152 801h2v1h-2zM154 800h6v1h-6zM160 801h6v1h-6zM166 800h4v1h-4zM170 799h10v1h-10zM180 800h1v1h-1zM181 801h1v1h-1zM182 802h1v2h-1zM183 804h1v1h-1zM184 805h1v1h-1zM185 806h1v1h-1zM186 807h1v1h-1zM187 806h1v3h-1zM188 803h1v3h-1zM189 800h1v3h-1zM190 798h1v2h-1zM191 795h1v3h-1zM192 792h1v3h-1zM193 789h1v3h-1zM194 786h1v3h-1zM195 785h1v1h-1zM196 786h2v1h-2zM198 787h1v1h-1zM199 788h2v1h-2zM201 789h2v1h-2zM203 790h3v1h-3zM206 789h5v1h-5zM211 788h2v1h-2zM213 787h3v1h-3zM216 786h2v1h-2zM218 785h3v1h-3zM221 786h1v1h-1zM222 787h2v1h-2zM224 788h2v1h-2zM226 789h1v1h-1zM227 790h2v1h-2zM229 791h2v1h-2zM231 792h2v1h-2zM233 793h2v1h-2zM235 794h2v1h-2zM237 793h2v1h-2zM239 792h3v1h-3zM242 791h3v1h-3zM245 790h5v1h-5zM250 789h10v1h-10zM260 790h1v1h-1zM261 791h1v2h-1zM262 793h1v1h-1zM263 794h1v1h-1zM264 795h1v1h-1zM265 796h1v1h-1zM266 797h1v2h-1zM267 799h5v1h-5zM272 800h4v1h-4zM276 801h1v1h-1zM277 802h2v1h-2zM279 803h1v1h-1zM280 804h1v1h-1zM281 805h2v1h-2zM283 806h1v1h-1zM284 807h2v1h-2zM286 808h2v1h-2zM288 809h2v1h-2zM290 810h2v1h-2zM292 811h1v2h-1zM293 813h1v1h-1zM294 814h1v2h-1zM295 816h1v1h-1zM296 817h1v2h-1zM297 819h1v1h-1zM298 820h1v2h-1zM299 822h4v1h-4zM303 821h6v1h-6zM309 820h2v1h-2zM311 819h3v1h-3zM314 818h12v1h-12zM326 819h4v1h-4zM330 820h12v1h-12zM342 819h8v1h-8zM350 818h8v1h-8zM358 817h7v1h-7zM365 818h2v1h-2zM367 819h2v1h-2zM369 820h2v1h-2zM371 821h6v1h-6zM377 822h2v1h-2zM379 821h1v2h-1zM380 819h1v2h-1zM381 817h1v2h-1zM382 815h1v2h-1zM383 814h1v1h-1zM384 812h1v2h-1zM385 810h1v2h-1zM386 808h1v2h-1zM387 807h1v1h-1zM388 808h2v1h-2zM390 809h1v1h-1zM391 810h1v1h-1zM392 811h2v1h-2zM394 812h1v1h-1zM395 813h4v1h-4zM399 814h6v1h-6zM405 815h4v1h-4zM409 816h3v1h-3zM412 817h2v1h-2zM414 818h2v1h-2zM416 819h2v1h-2zM418 820h1v1h-1zM419 821h2v1h-2zM421 822h2v1h-2zM423 823h2v1h-2zM425 824h2v1h-2zM427 825h5v1h-5zM432 826h8v1h-8zM440 827h4v1h-4zM444 826h3v1h-3zM447 825h2v1h-2zM449 824h2v1h-2zM451 823h1v2h-1zM452 822h1v1h-1zM453 821h1v1h-1zM454 820h1v1h-1zM455 818h1v2h-1zM456 817h1v1h-1zM457 816h1v1h-1zM458 815h1v1h-1zM459 813h1v2h-1zM460 812h1v1h-1zM461 811h1v1h-1zM462 810h1v1h-1zM463 809h1v1h-1zM464 807h1v2h-1zM465 806h1v1h-1zM466 805h1v1h-1zM467 804h1v1h-1zM468 803h3v1h-3zM471 802h2v1h-2zM473 801h2v1h-2zM475 800h3v1h-3zM478 799h3v1h-3zM481 798h3v1h-3zM484 797h3v1h-3zM487 796h3v1h-3zM490 795h4v1h-4zM494 794h6v1h-6zM500 793h2v1h-2zM502 792h2v1h-2zM504 791h2v1h-2zM506 790h2v1h-2zM508 791h2v1h-2zM510 792h2v1h-2zM512 793h1v1h-1zM513 794h2v1h-2zM515 795h1v1h-1zM516 794h1v1h-1zM517 793h1v1h-1zM518 792h2v1h-2zM520 791h1v1h-1zM521 790h1v1h-1zM522 789h1v1h-1zM523 788h1v1h-1zM524 789h1v1h-1zM525 790h1v1h-1zM526 791h1v1h-1zM527 792h1v1h-1zM528 793h1v1h-1zM529 794h1v1h-1zM530 795h1v1h-1zM531 796h1v1h-1zM532 795h2v1h-2zM534 794h2v1h-2zM536 793h2v1h-2zM538 792h2v1h-2zM540 791h5v1h-5zM545 790h11v1h-11zM556 789h1v1h-1zM557 788h1v1h-1zM558 787h1v1h-1zM559 786h1v1h-1zM560 785h2v1h-2zM562 784h1v1h-1zM563 783h2v1h-2zM565 782h2v1h-2zM567 781h3v1h-3zM570 780h2v1h-2zM572 779h1v1h-1zM573 778h2v1h-2zM575 777h1v1h-1zM576 776h1v1h-1zM577 775h2v1h-2zM579 774h1v1h-1zM580 775h1v1h-1zM581 776h1v2h-1zM582 778h1v1h-1zM583 779h1v1h-1zM584 780h1v1h-1zM585 781h1v2h-1zM586 783h1v1h-1zM587 784h6v1h-6zM593 785h12v1h-12zM605 786h2v1h-2zM607 787h2v1h-2zM609 788h2v1h-2zM611 789h2v1h-2zM613 788h4v1h-4zM617 787h4v1h-4zM621 786h4v1h-4zM625 785h3v1h-3zM628 786h1v2h-1zM629 788h1v1h-1zM630 789h1v1h-1zM631 790h1v2h-1zM632 792h1v1h-1zM633 793h1v1h-1zM634 794h1v2h-1zM635 796h1v1h-1zM636 795h2v1h-2zM638 794h2v1h-2zM640 793h1v1h-1zM641 792h2v1h-2zM643 791h1v1h-1zM644 790h2v1h-2zM646 789h1v1h-1zM647 788h1v1h-1zM648 787h1v1h-1zM649 786h1v1h-1zM650 785h1v1h-1zM651 784h4v1h-4zM655 785h4v1h-4zM659 785h1v3h-1zM660 788h1v2h-1zM661 790h1v3h-1zM662 793h1v2h-1zM663 795h1v2h-1zM664 797h1v3h-1zM665 800h1v2h-1zM666 802h1v3h-1zM667 805h19v1h-19zM686 804h8v1h-8zM694 803h6v1h-6zM700 804h1v2h-1zM701 806h1v1h-1zM702 807h1v2h-1zM703 809h1v1h-1zM704 810h1v2h-1zM705 812h1v1h-1zM706 813h1v2h-1zM707 815h1v1h-1zM708 814h2v1h-2zM710 813h2v1h-2zM712 812h2v1h-2zM714 811h2v1h-2zM716 812h1v1h-1zM717 813h1v1h-1zM718 814h1v2h-1zM719 816h1v1h-1zM720 817h1v1h-1zM721 818h1v2h-1zM722 820h1v1h-1zM723 821h1v1h-1zM724 820h3v1h-3zM727 819h3v1h-3zM730 818h12v1h-12zM742 817h6v1h-6zM748 816h5v1h-5zM753 815h5v1h-5zM758 816h4v1h-4zM762 817h2v1h-2zM764 816h1v1h-1zM765 815h1v1h-1zM766 814h1v1h-1zM767 813h1v1h-1zM768 812h1v1h-1zM769 811h1v1h-1zM770 810h1v1h-1zM771 809h10v1h-10zM781 808h6v1h-6zM787 807h2v1h-2zM789 806h2v1h-2zM791 805h2v1h-2zM793 804h2v1h-2zM795 803h18v1h-18zM813 802h5v1h-5zM818 801h5v1h-5zM823 800h4v1h-4zM827 799h1v2h-1zM828 798h1v1h-1zM829 797h1v1h-1zM830 796h1v1h-1zM831 795h1v1h-1zM832 793h1v2h-1zM833 792h1v1h-1zM834 791h1v1h-1zM835 790h1v1h-1zM836 789h2v1h-2zM838 788h1v1h-1zM839 787h1v1h-1zM840 786h2v1h-2zM842 785h1v1h-1zM843 784h1v2h-1zM844 786h1v2h-1zM845 788h1v2h-1zM846 790h1v2h-1zM847 792h1v2h-1zM848 794h1v2h-1zM849 796h1v2h-1zM850 798h1v2h-1zM851 800h1v1h-1zM852 801h1v2h-1zM853 803h1v2h-1zM854 805h1v2h-1zM855 807h1v2h-1zM856 809h1v1h-1zM857 810h1v2h-1zM858 812h1v2h-1zM859 814h1v1h-1zM860 813h1v1h-1zM861 812h1v1h-1zM862 811h1v1h-1zM863 810h1v1h-1zM864 809h1v1h-1zM865 808h1v1h-1zM866 807h1v1h-1zM867 806h2v1h-2zM869 807h2v1h-2zM871 808h2v1h-2zM873 809h2v1h-2zM875 810h9v1h-9zM884 809h3v1h-3zM887 808h3v1h-3zM890 807h11v1h-11zM901 808h3v1h-3zM904 809h2v1h-2zM906 810h3v1h-3zM909 809h4v1h-4zM913 808h19v1h-19zM932 807h1v1h-1zM933 806h1v1h-1zM934 805h1v1h-1zM935 804h1v1h-1zM936 803h2v1h-2zM938 802h1v1h-1zM939 801h1v1h-1zM940 802h1v1h-1zM941 803h1v1h-1zM942 804h1v1h-1zM943 805h1v1h-1zM944 806h1v1h-1zM945 807h1v1h-1zM946 808h1v1h-1zM947 809h5v1h-5zM952 810h4v1h-4zM956 809h1v1h-1zM957 807h1v2h-1zM958 806h1v1h-1zM959 805h1v1h-1zM960 804h1v1h-1zM961 802h1v2h-1zM962 801h1v1h-1zM963 800h2v1h-2zM965 799h2v1h-2zM967 798h2v1h-2zM969 797h2v1h-2zM971 796h2v1h-2zM973 795h1v1h-1zM974 794h2v1h-2zM976 793h2v1h-2zM978 792h2v1h-2zM980 793h1v1h-1zM981 794h1v1h-1zM982 795h1v1h-1zM983 796h1v1h-1zM984 797h1v2h-1zM985 799h1v1h-1zM986 800h1v1h-1zM987 801h1v1h-1zM988 800h2v1h-2zM990 799h2v1h-2zM992 798h2v1h-2zM994 797h4v1h-4zM998 796h6v1h-6zM1004 795h2v1h-2zM1006 794h2v1h-2zM1008 793h2v1h-2zM1010 792h3v1h-3zM1013 793h3v1h-3zM1016 794h2v1h-2zM1018 795h4v1h-4zM1022 794h5v1h-5zM1027 793h1v2h-1zM1028 792h1v1h-1zM1029 790h1v2h-1zM1030 789h1v1h-1zM1031 787h1v2h-1zM1032 786h1v1h-1zM1033 784h1v2h-1zM1034 783h1v1h-1zM1035 782h1v1h-1zM1036 781h1v1h-1zM1037 780h2v1h-2zM1039 779h2v1h-2zM1041 778h1v1h-1zM1042 777h4v1h-4zM1046 776h6v1h-6zM1052 775h2v1h-2zM1054 774h2v1h-2zM1056 773h2v1h-2zM1058 772h2v1h-2zM1060 771h3v1h-3zM1063 770h3v1h-3zM1066 769h6v1h-6zM1072 770h8v1h-8zM1080 771h8v1h-8zM1088 772h5v1h-5zM1093 773h3v1h-3zM1096 774h3v1h-3zM1099 775h1v1h-1zM1100 774h2v1h-2zM1102 773h2v1h-2zM1104 772h1v1h-1zM1105 771h2v1h-2zM1107 770h1v2h-1zM1108 772h1v1h-1zM1109 773h1v1h-1zM1110 774h1v1h-1zM1111 775h1v1h-1zM1112 776h1v2h-1zM1113 778h1v1h-1zM1114 779h1v1h-1zM1115 780h1v1h-1zM1116 779h3v1h-3zM1119 778h2v1h-2zM1121 777h7v1h-7zM1128 778h3v1h-3zM1131 778h1v2h-1zM1132 780h1v1h-1zM1133 781h1v2h-1zM1134 783h1v1h-1zM1135 784h1v2h-1zM1136 786h1v1h-1zM1137 787h1v2h-1zM1138 789h1v1h-1zM1139 790h1v1h-1zM1140 789h2v1h-2zM1142 788h2v1h-2zM1144 787h2v1h-2zM1146 786h4v1h-4zM1150 787h2v1h-2zM1152 788h2v1h-2zM1154 789h1v1h-1zM1155 789h1v4h-1zM1156 793h1v4h-1zM1157 797h1v4h-1zM1158 801h1v4h-1zM1159 805h1v3h-1zM1160 808h1v4h-1zM1161 812h1v4h-1zM1162 816h1v4h-1zM1163 820h1v1h-1zM1164 819h2v1h-2zM1166 818h1v1h-1zM1167 817h1v1h-1zM1168 816h2v1h-2zM1170 815h1v1h-1zM1171 814h2v1h-2zM1173 813h2v1h-2zM1175 812h1v1h-1zM1176 811h2v1h-2zM1178 810h3v1h-3zM1181 811h2v1h-2zM1183 812h2v1h-2zM1185 813h2v1h-2zM1187 814h2v1h-2zM1189 813h4v1h-4zM1193 812h6v1h-6zM1199 813h4v1h-4zM1203 814h3v1h-3zM1206 815h2v1h-2zM1208 816h2v1h-2zM1210 817h3v1h-3zM1213 816h3v1h-3zM1216 815h2v1h-2zM1218 814h6v1h-6zM1224 815h5v1h-5zM1229 816h1v1h-1zM1230 817h2v1h-2zM1232 818h2v1h-2zM1234 819h2v1h-2zM1236 820h2v1h-2zM1238 821h2v1h-2zM1240 822h1v1h-1zM1241 823h2v1h-2zM1243 824h2v1h-2zM1245 825h1v1h-1zM1246 826h2v1h-2zM1248 827h1v1h-1zM1249 828h2v1h-2zM1251 829h1v1h-1zM1252 830h1v2h-1zM1253 832h1v2h-1zM1254 834h1v1h-1zM1255 835h1v2h-1zM1256 837h1v2h-1zM1257 839h1v1h-1zM1258 840h1v2h-1zM1259 842h2v1h-2zM1261 843h2v1h-2zM1263 844h2v1h-2zM1265 845h2v1h-2zM1267 846h5v1h-5zM1272 847h5v1h-5zM1277 848h2v1h-2zM1279 849h3v1h-3zM1282 850h1v1h-1zM1283 849h1v2h-1zM1284 848h1v1h-1zM1285 846h1v2h-1zM1286 845h1v1h-1zM1287 843h1v2h-1zM1288 841h1v2h-1zM1289 840h1v1h-1zM1290 838h1v2h-1zM1291 837h2v1h-2zM1293 836h4v1h-4zM1297 835h16v1h-16zM1313 836h5v1h-5zM1318 835h10v1h-10zM1328 836h4v1h-4z" fill="#1E90FF"/></g><rect x="1684" y="39" width="2" height="1" fill="#000"/><rect x="1684" y="72" width="2" height="1" fill="#000"/><rect x="1684" y="106" width="2" height="1" fill="#000"/><rect x="1684" y="138" width="2" height="1" fill="#000"/><rect x="1684" y="171" width="2" height="1" fill="#000"/><rect x="1684" y="204" width="2" height="1" fill="#000"/><rect x="1684" y="237" width="2" height="1" fill="#000"/><rect x="1684" y="270" width="2" height="1" fill="#000"/><rect x="1684" y="303" width="2" height="1" fill="#000"/><rect x="1684" y="336" width="2" height="1" fill="#000"/><rect x="1684" y="369" width="2" height="1" fill="#000"/><rect x="1684" y="402" width="2" height="1" fill="#000"/><rect x="1684" y="435" width="2" height="1" fill="#000"/><rect x="1684" y="468" width="2" height="1" fill="#000"/><rect x="1684" y="501" width="2" height="1" fill="#000"/><rect x="1684" y="534" width="2" height="1" fill="#000"/><rect x="1684" y="567" width="2" height="1" fill="#000"/><rect x="1684" y="651" width="2" height="1" fill="#000"/><rect x="1684" y="574" width="1" height="1" fill="#000"/><rect x="1684" y="743" width="1" height="1" fill="#000"/><rect x="1684" y="748" width="1" height="1" fill="#000"/><rect x="1684" y="873" width="1" height="1" fill="#000"/><rect x="3" y="875" width="1" height="3" fill="#000"/><rect x="67" y="875" width="1" height="3" fill="#000"/><rect x="131" y="875" width="1" height="3" fill="#000"/><rect x="195" y="875" width="1" height="3" fill="#000"/><rect x="259" y="875" width="1" height="3" fill="#000"/><rect x="323" y="875" width="1" height="3" fill="#000"/><rect x="387" y="875" width="1" height="3" fill="#000"/><rect x="451" y="875" width="1" height="3" fill="#000"/><rect x="515" y="875" width="1" height="3" fill="#000"/><rect x="579" y="875" width="1" height="3" fill="#000"/><rect x="643" y="875" width="1" height="3" fill="#000"/><rect x="707" y="875" width="1" height="3" fill="#000"/><rect x="771" y="875" width="1" height="3" fill="#000"/><rect x="835" y="875" width="1" height="3" fill="#000"/><rect x="899" y="875" width="1" height="3" fill="#000"/><rect x="963" y="875" width="1" height="3" fill="#000"/><rect x="1027" y="875" width="1" height="3" fill="#000"/><rect x="1091" y="875" width="1" height="3" fill="#000"/><rect x="1155" y="875" width="1" height="3" fill="#000"/><rect x="1219" y="875" width="1" height="3" fill="#000"/><rect x="1283" y="875" width="1" height="3" fill="#000"/><rect x="1685" y="81" width="38" height="11" fill="#FF0000"/><rect x="1685" y="209" width="38" height="11" fill="#FF0000"/><rect x="1685" y="353" width="38" height="11" fill="#32CD32"/><rect x="1685" y="417" width="38" height="11" fill="#000000"/><rect x="1685" y="512" width="38" height="11" fill="#4169E1"/><rect x="1" y="8" width="1" height="1" fill="#505050"/><rect x="3" y="8" width="1" height="1" fill="#505050"/><rect x="5" y="8" width="1" height="1" fill="#505050"/><rect x="7" y="8" width="1" height="1" fill="#505050"/><rect x="9" y="8" width="1" height="1" fill="#505050"/><rect x="11" y="8" width="1" height="1" fill="#505050"/><rect x="1" y="11" width="1" height="1" fill="#505050"/><rect x="3" y="11" width="1" height="1" fill="#505050"/><rect x="5" y="11" width="1" height="1" fill="#505050"/><rect x="7" y="11" width="1" height="1" fill="#505050"/><rect x="9" y="11" width="1" height="1" fill="#505050"/><rect x="11" y="11" width="1" height="1" fill="#505050"/><rect x="1" y="15" width="1" height="1" fill="#505050"/><rect x="3" y="15" width="1" height="1" fill="#505050"/><rect x="5" y="15" width="1" height="1" fill="#505050"/><rect x="7" y="15" width="1" height="1" fill="#505050"/><rect x="9" y="15" width="1" height="1" fill="#505050"/><rect x="11" y="15" width="1" height="1" fill="#505050"/><rect x="1" y="19" width="1" height="1" fill="#505050"/><rect x="3" y="19" width="1" height="1" fill="#505050"/><rect x="5" y="19" width="1" height="1" fill="#505050"/><rect x="7" y="19" width="1" height="1" fill="#505050"/><rect x="59" y="9" width="1" height="1" fill="#505050"/><rect x="61" y="9" width="1" height="1" fill="#505050"/><rect x="63" y="9" width="1" height="1" fill="#505050"/><rect x="65" y="9" width="1" height="1" fill="#505050"/><rect x="67" y="9" width="1" height="1" fill="#505050"/><rect x="55" y="8" width="2" height="1" fill="#505050"/><rect x="55" y="9" width="3" height="1" fill="#505050"/><rect x="56" y="11" width="1" height="1" fill="#505050"/><rect x="56" y="13" width="1" height="1" fill="#505050"/><rect x="56" y="15" width="1" height="1" fill="#505050"/><rect x="56" y="17" width="1" height="1" fill="#505050"/><rect x="56" y="19" width="1" height="1" fill="#505050"/><rect x="56" y="21" width="1" height="1" fill="#505050"/><rect x="67" y="11" width="1" height="1" fill="#505050"/><rect x="67" y="13" width="1" height="1" fill="#505050"/><rect x="67" y="15" width="1" height="1" fill="#505050"/><rect x="67" y="17" width="1" height="1" fill="#505050"/><rect x="67" y="19" width="1" height="1" fill="#505050"/><rect x="58" y="21" width="1" height="1" fill="#505050"/><rect x="60" y="21" width="1" height="1" fill="#505050"/><rect x="62" y="21" width="1" height="1" fill="#505050"/><rect x="64" y="21" width="1" height="1" fill="#505050"/><rect x="66" y="21" width="1" height="1" fill="#505050"/><rect x="58" y="12" width="8" height="1" fill="#505050"/><rect x="61" y="12" width="2" height="8" fill="#505050"/><g shape-rendering="auto" fill="#505050"><polygon points="86.5,8.8 90.3,12.8 82.7,12.8"/><rect x="85" y="12.8" width="3" height="1"/><polygon points="93.5,22.2 97.3,18.2 89.7,18.2"/><rect x="92" y="17.2" width="3" height="1"/><polyline points="85.1,16.4 87.3,18.7 92,13.1" fill="none" stroke="#505050" stroke-width="1.3"/></g><polygon points="103.7,14 109.3,14 106.5,17.2" fill="#000" shape-rendering="auto"/><rect x="115" y="2" width="1" height="25" fill="#A0A0A0"/><rect x="116" y="2" width="1" height="25" fill="#FFFFFF"/><rect x="376" y="2" width="1" height="25" fill="#A0A0A0"/><rect x="377" y="2" width="1" height="25" fill="#FFFFFF"/><rect x="119" y="5" width="3" height="1" fill="#A0A0A0"/><rect x="119" y="7" width="3" height="1" fill="#A0A0A0"/><rect x="119" y="9" width="3" height="1" fill="#A0A0A0"/><rect x="119" y="11" width="3" height="1" fill="#A0A0A0"/><rect x="119" y="13" width="3" height="1" fill="#A0A0A0"/><rect x="119" y="15" width="3" height="1" fill="#A0A0A0"/><rect x="119" y="17" width="3" height="1" fill="#A0A0A0"/><rect x="119" y="19" width="3" height="1" fill="#A0A0A0"/><rect x="119" y="21" width="3" height="1" fill="#A0A0A0"/><rect x="119" y="23" width="3" height="1" fill="#A0A0A0"/><rect x="265" y="3" width="25" height="22" fill="#F8F8F8"/><rect x="265" y="3" width="25" height="1" fill="#A0A0A0"/><rect x="265" y="3" width="1" height="22" fill="#A0A0A0"/><rect x="289" y="3" width="1" height="22" fill="#FFFFFF"/><rect x="265" y="24" width="25" height="1" fill="#FFFFFF"/><polygon points="6,38 13.4,38 9.7,42.3" fill="#000" shape-rendering="auto"/></svg>
<div class="t " style="left:1689px;top:34.5px;">1964.90</div><div class="t " style="left:1689px;top:67.5px;">1954.70</div><div class="t " style="left:1689px;top:101.5px;">1944.20</div><div class="t " style="left:1689px;top:133.5px;">1934.00</div><div class="t " style="left:1689px;top:166.5px;">1923.80</div><div class="t " style="left:1689px;top:199.5px;">1913.30</div><div class="t " style="left:1689px;top:232.5px;">1903.10</div><div class="t " style="left:1689px;top:265.5px;">1892.60</div><div class="t " style="left:1689px;top:298.5px;">1882.40</div><div class="t " style="left:1689px;top:331.5px;">1871.90</div><div class="t " style="left:1689px;top:364.5px;">1861.70</div><div class="t " style="left:1689px;top:397.5px;">1851.50</div><div class="t " style="left:1689px;top:430.5px;">1841.00</div><div class="t " style="left:1689px;top:463.5px;">1830.80</div><div class="t " style="left:1689px;top:496.5px;">1820.30</div><div class="t " style="left:1689px;top:529.5px;">1810.10</div><div class="t " style="left:1689px;top:562.5px;">1799.90</div><div class="t w" style="left:1689px;top:80.7px;">1950.00</div><div class="t w" style="left:1689px;top:208.7px;">1910.00</div><div class="t w" style="left:1689px;top:352.7px;">1865.00</div><div class="t w" style="left:1689px;top:416.5px;">1845.18</div><div class="t w" style="left:1689px;top:511.70000000000005px;">1815.00</div><div class="t " style="left:1687.4px;top:574.8px;">18.788</div><div class="t " style="left:1687.4px;top:646.8px;">0.00</div><div class="t " style="left:1687px;top:732.6px;">-22.515</div><div class="t " style="left:1687.4px;top:748.7px;">100</div><div class="t " style="left:1687.4px;top:780.6px;">70</div><div class="t " style="left:1687.4px;top:831.6px;">30</div><div class="t " style="left:1687.4px;top:862.7px;">0</div><div class="t " style="left:2.6px;top:879.0px;">1 Dec 2020</div><div class="t " style="left:66.6px;top:879.0px;">2 Dec 20:00</div><div class="t " style="left:130.6px;top:879.0px;">4 Dec 04:00</div><div class="t " style="left:194.6px;top:879.0px;">7 Dec 12:00</div><div class="t " style="left:258.6px;top:879.0px;">8 Dec 20:00</div><div class="t " style="left:322.6px;top:879.0px;">10 Dec 04:00</div><div class="t " style="left:386.6px;top:879.0px;">11 Dec 12:00</div><div class="t " style="left:450.6px;top:879.0px;">14 Dec 20:00</div><div class="t " style="left:514.6px;top:879.0px;">16 Dec 04:00</div><div class="t " style="left:578.6px;top:879.0px;">17 Dec 12:00</div><div class="t " style="left:642.6px;top:879.0px;">20 Dec 23:00</div><div class="t " style="left:706.6px;top:879.0px;">22 Dec 04:00</div><div class="t " style="left:770.6px;top:879.0px;">23 Dec 12:00</div><div class="t " style="left:834.6px;top:879.0px;">27 Dec 23:00</div><div class="t " style="left:898.6px;top:879.0px;">29 Dec 04:00</div><div class="t " style="left:962.6px;top:879.0px;">30 Dec 12:00</div><div class="t " style="left:1026.6px;top:879.0px;">31 Dec 20:00</div><div class="t " style="left:1090.6px;top:879.0px;">5 Jan 00:00</div><div class="t " style="left:1154.6px;top:879.0px;">6 Jan 08:00</div><div class="t " style="left:1218.6px;top:879.0px;">7 Jan 16:00</div><div class="t " style="left:1282.6px;top:879.0px;">11 Jan 00:00</div><div class="t " style="left:18px;top:35.0px;word-spacing:1.1px;"><span style="letter-spacing:.27px">XAUUSD-,H4</span>&nbsp; 1846.67 1848.04 1843.65 1845.18</div><div class="t " style="left:7.4px;top:576.8px;word-spacing:1.1px;letter-spacing:.13px;">MACD(12,26,9) -20.278 -18.456</div><div class="t " style="left:7px;top:750.8px;word-spacing:1.1px;letter-spacing:.06px;">RSI(14) 29.5829</div><div class="t tb" style="left:131px;top:10.8px;">M1</div><div class="t tb" style="left:159px;top:10.8px;">M5</div><div class="t tb" style="left:185px;top:10.8px;">M15</div><div class="t tb" style="left:213px;top:10.8px;">M30</div><div class="t tb" style="left:244px;top:10.8px;">H1</div><div class="t tb" style="left:271px;top:10.8px;">H4</div><div class="t tb" style="left:300px;top:10.8px;">D1</div><div class="t tb" style="left:327px;top:10.8px;">W1</div><div class="t tb" style="left:354px;top:10.8px;">MN</div><div class="t tb" style="left:29.6px;top:7.6px;font-size:12.5px;line-height:16px;font-weight:bold;transform:scaleX(.85)">A</div><div class="t tb" style="left:8.5px;top:17.2px;font-size:7px;line-height:10px;font-weight:bold;transform:none">F</div><div class="big">多空转折点<span class="dg">1865</span></div>
</body></html>
